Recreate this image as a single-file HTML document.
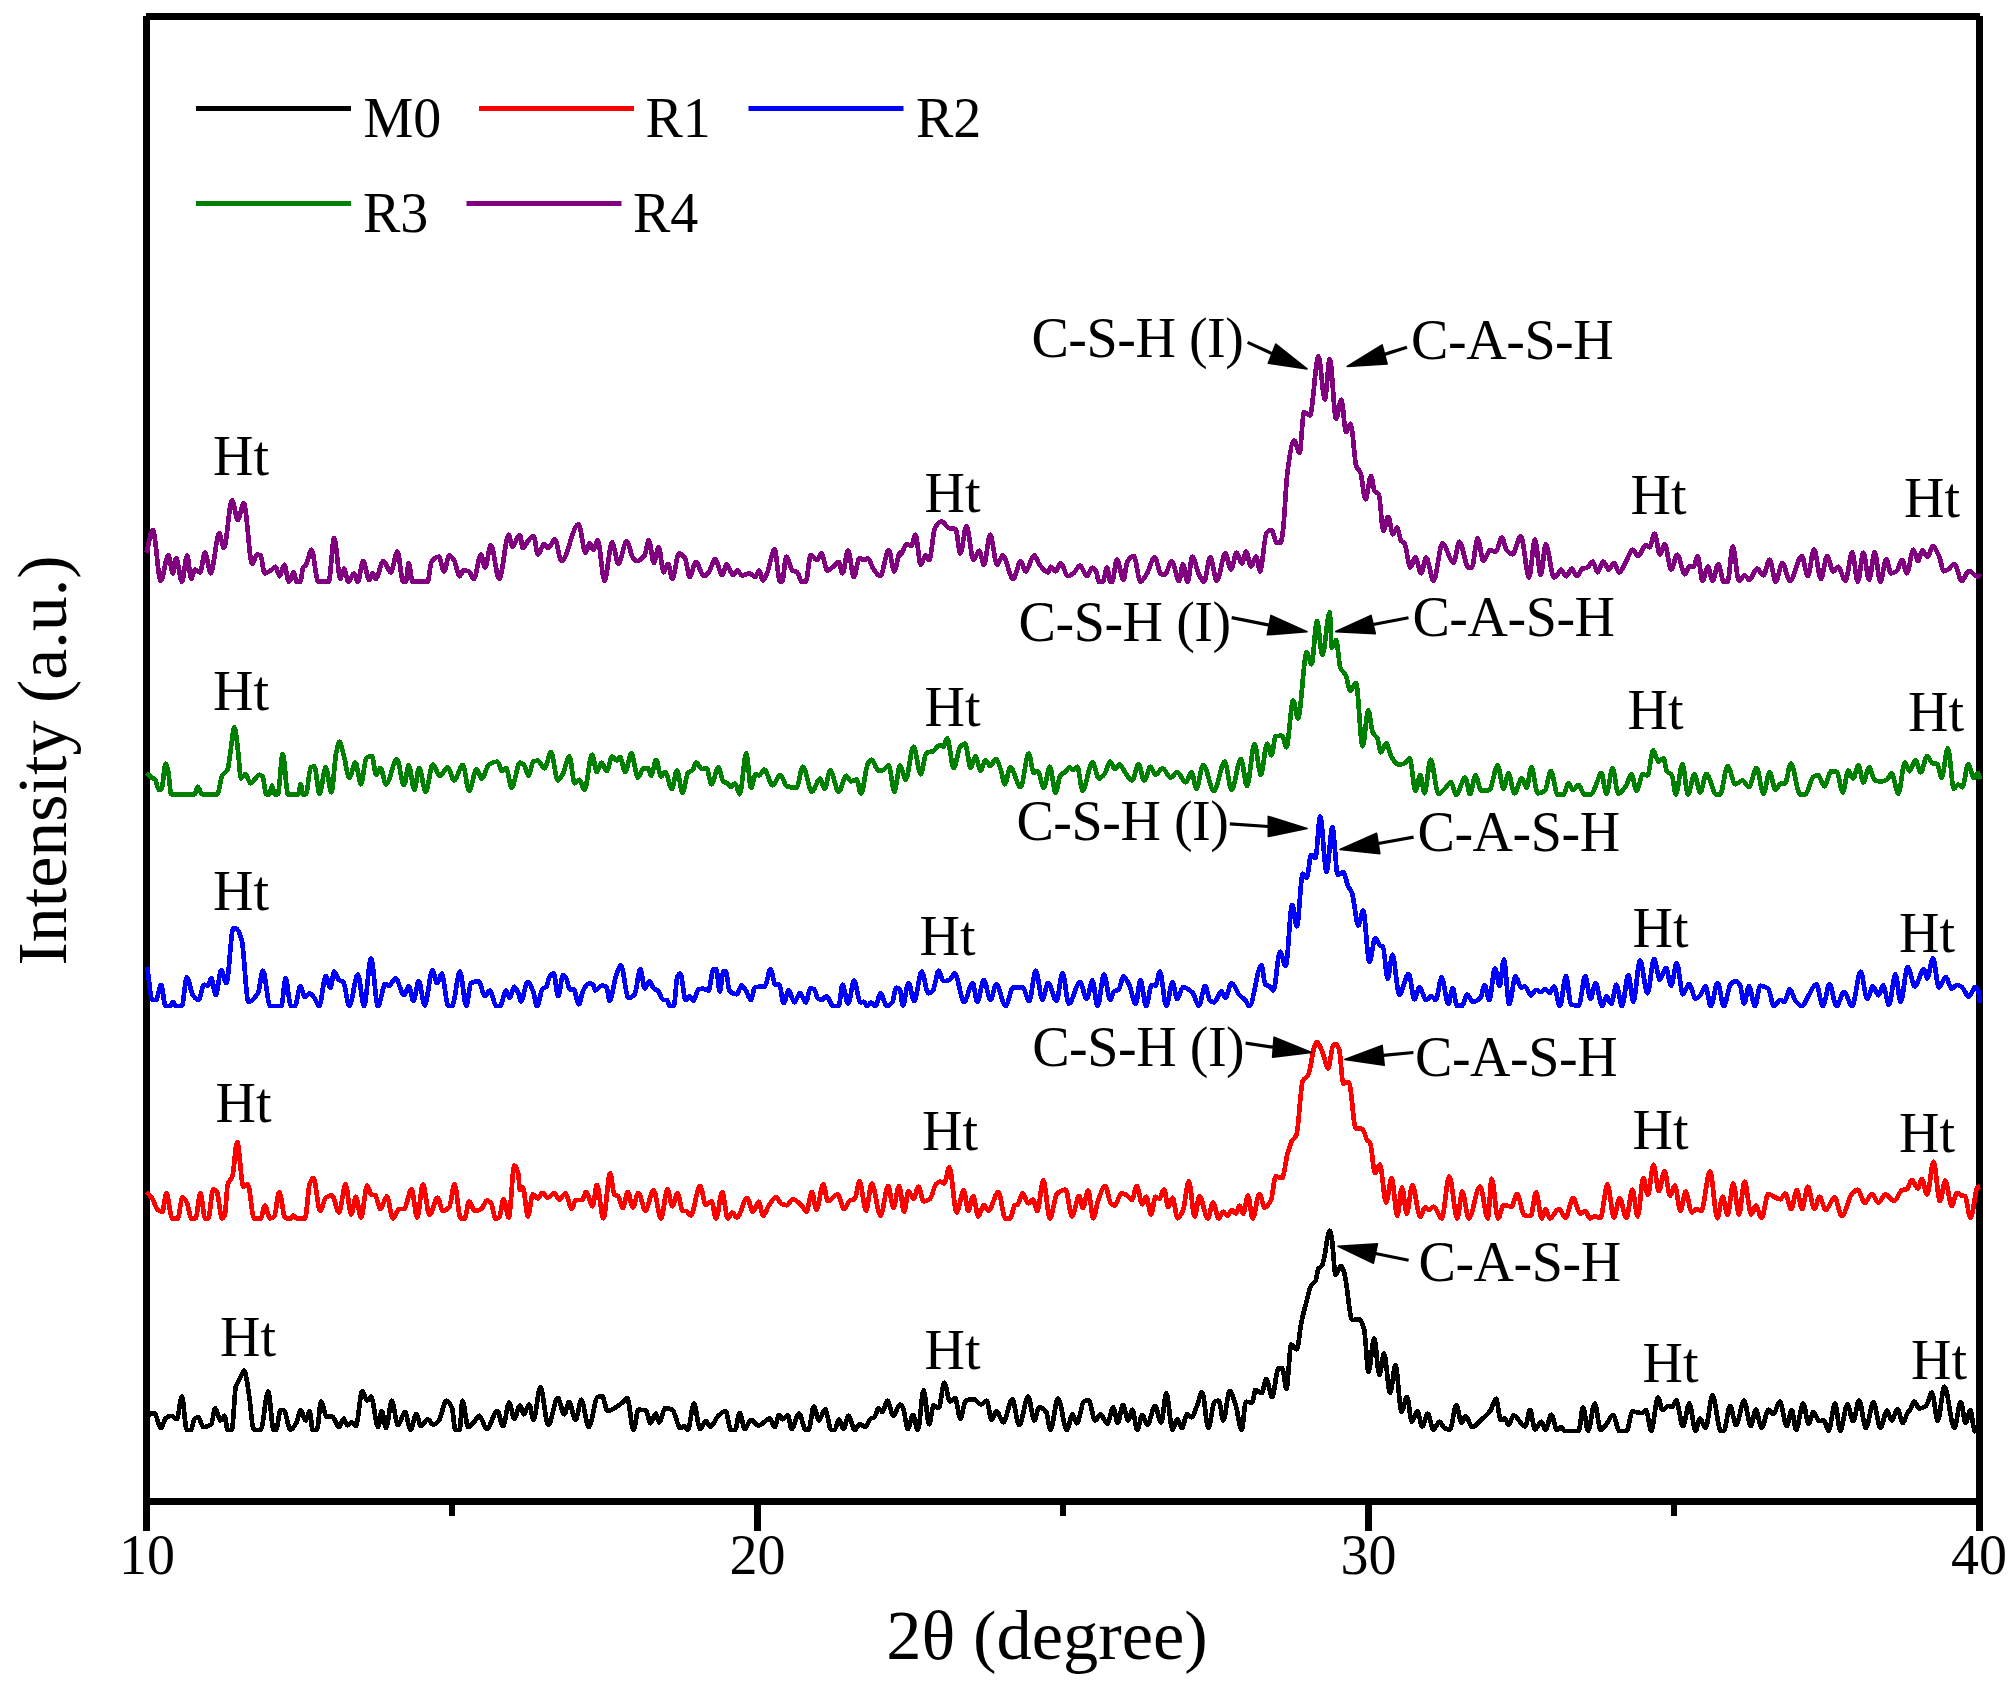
<!DOCTYPE html>
<html><head><meta charset="utf-8"><title>XRD</title>
<style>html,body{margin:0;padding:0;background:#fff}svg{display:block}text{font-family:"Liberation Serif","Times New Roman",serif;fill:#000}</style></head><body>
<svg width="2015" height="1686" viewBox="0 0 2015 1686">
<rect width="2015" height="1686" fill="#fff"/>
<g stroke="#000" stroke-width="7" fill="none" stroke-linecap="butt">
<line x1="146" y1="16.5" x2="1980" y2="16.5"/>
<line x1="146.5" y1="16" x2="146.5" y2="1531"/>
<line x1="1979.5" y1="16" x2="1979.5" y2="1531"/>
<line x1="143" y1="1501.5" x2="1983" y2="1501.5"/>
<line x1="757.5" y1="1501.5" x2="757.5" y2="1531"/>
<line x1="1368.5" y1="1501.5" x2="1368.5" y2="1531"/>
<line x1="452" y1="1501.5" x2="452" y2="1516" stroke-width="6"/>
<line x1="1063" y1="1501.5" x2="1063" y2="1516" stroke-width="6"/>
<line x1="1674" y1="1501.5" x2="1674" y2="1516" stroke-width="6"/>
</g>
<path fill="none" stroke="#000000" stroke-width="4.7" stroke-linejoin="round" stroke-linecap="butt" shape-rendering="crispEdges" d="M146.6,1415.8C149.1,1414.8 151.6,1413.0 154.1,1413.0C156.5,1413.0 158.8,1428.0 161.1,1428.0C162.6,1428.0 164.0,1419.8 165.5,1418.6C167.3,1417.0 169.2,1415.8 171.1,1415.8C173.0,1415.8 174.9,1419.2 176.8,1419.2C178.5,1419.2 180.2,1396.5 181.9,1396.5C183.5,1396.5 185.1,1429.9 186.8,1429.9C188.2,1429.9 189.5,1429.9 190.9,1429.9C192.2,1429.9 193.4,1419.4 194.7,1418.6C195.9,1417.8 197.2,1417.3 198.5,1417.3C200.0,1417.3 201.6,1427.1 203.2,1427.1C205.9,1427.1 208.6,1426.2 211.3,1424.3C212.5,1423.4 213.8,1408.2 215.1,1408.2C216.9,1408.2 218.8,1420.5 220.7,1420.5C222.0,1420.5 223.2,1415.8 224.5,1415.8C225.6,1415.8 226.6,1429.9 227.7,1429.9C229.1,1429.9 230.6,1429.9 232.0,1429.9C232.7,1429.9 233.3,1415.7 233.9,1408.2C234.5,1401.5 235.0,1389.7 235.6,1387.5C236.3,1384.8 237.0,1384.3 237.7,1382.8C239.1,1379.8 240.5,1376.8 241.8,1374.3C242.6,1372.9 243.3,1370.5 244.1,1370.5C245.0,1370.5 245.9,1375.8 246.7,1380.0C247.7,1384.6 248.8,1393.2 249.8,1400.7C250.9,1409.1 252.0,1426.2 253.2,1428.0C253.8,1429.1 254.4,1429.9 255.0,1429.9C256.9,1429.9 258.8,1429.9 260.7,1429.9C263.2,1429.9 265.7,1391.3 268.2,1391.3C270.0,1391.3 271.8,1429.9 273.5,1429.9C274.4,1429.9 275.3,1429.9 276.2,1429.9C277.6,1429.9 279.1,1410.1 280.5,1410.1C281.6,1410.1 282.6,1410.1 283.7,1410.1C286.0,1410.1 288.2,1429.9 290.5,1429.9C292.5,1429.9 294.5,1426.0 296.5,1422.4C297.9,1419.9 299.3,1410.1 300.7,1410.1C302.3,1410.1 303.9,1420.5 305.6,1420.5C307.0,1420.5 308.3,1411.1 309.7,1411.1C310.7,1411.1 311.6,1429.9 312.6,1429.9C314.0,1429.9 315.4,1429.9 316.9,1429.9C318.3,1429.9 319.7,1401.6 321.0,1401.6C322.9,1401.6 324.8,1416.7 326.7,1416.7C328.6,1416.7 330.5,1416.7 332.4,1416.7C334.6,1416.7 336.8,1427.1 339.0,1427.1C340.5,1427.1 342.1,1418.6 343.7,1418.6C344.9,1418.6 346.2,1425.2 347.4,1425.2C349.0,1425.2 350.6,1422.4 352.2,1422.4C353.4,1422.4 354.7,1426.2 355.9,1426.2C358.0,1426.2 360.1,1390.9 362.2,1390.9C363.9,1390.9 365.5,1400.7 367.2,1400.7C368.5,1400.7 369.8,1396.5 371.0,1396.5C373.3,1396.5 375.7,1427.1 378.0,1427.1C379.3,1427.1 380.5,1411.1 381.8,1411.1C383.2,1411.1 384.7,1428.0 386.1,1428.0C388.0,1428.0 389.9,1400.7 391.8,1400.7C393.8,1400.7 395.9,1425.2 398.0,1425.2C400.3,1425.2 402.6,1412.0 405.0,1412.0C406.8,1412.0 408.7,1429.9 410.6,1429.9C412.5,1429.9 414.4,1413.9 416.3,1413.9C417.8,1413.9 419.4,1426.2 421.0,1426.2C423.2,1426.2 425.4,1419.2 427.6,1419.2C429.5,1419.2 431.4,1424.8 433.3,1424.8C435.1,1424.8 437.0,1422.7 438.9,1420.5C441.4,1417.6 443.9,1400.7 446.5,1400.7C448.3,1400.7 450.2,1403.8 452.1,1408.2C453.2,1410.8 454.2,1429.9 455.3,1429.9C456.8,1429.9 458.2,1429.9 459.7,1429.9C460.6,1429.9 461.5,1400.7 462.5,1400.7C464.4,1400.7 466.3,1427.1 468.1,1427.1C470.0,1427.1 471.9,1424.2 473.8,1422.4C475.7,1420.5 477.6,1415.8 479.5,1415.8C481.8,1415.8 484.2,1429.0 486.6,1429.0C490.2,1429.0 493.8,1411.1 497.4,1411.1C499.3,1411.1 501.1,1426.2 503.0,1426.2C505.1,1426.2 507.2,1402.6 509.3,1402.6C510.9,1402.6 512.6,1418.6 514.3,1418.6C516.2,1418.6 518.1,1405.4 520.0,1405.4C521.3,1405.4 522.5,1414.3 523.8,1414.3C525.5,1414.3 527.3,1404.5 529.1,1404.5C530.6,1404.5 532.1,1419.6 533.6,1419.6C535.8,1419.6 538.1,1387.1 540.4,1387.1C543.0,1387.1 545.6,1425.2 548.3,1425.2C551.4,1425.2 554.6,1397.9 557.7,1397.9C559.9,1397.9 562.1,1414.3 564.3,1414.3C565.9,1414.3 567.5,1402.2 569.0,1402.2C571.2,1402.2 573.4,1419.9 575.6,1419.9C577.5,1419.9 579.4,1399.8 581.3,1399.8C583.8,1399.8 586.3,1427.1 588.8,1427.1C591.8,1427.1 594.7,1398.0 597.7,1396.9C599.1,1396.4 600.6,1396.0 602.0,1396.0C603.9,1396.0 605.8,1411.1 607.7,1411.1C609.9,1411.1 612.1,1409.4 614.3,1408.2C617.1,1406.7 620.0,1404.6 622.8,1402.2C624.2,1401.0 625.7,1397.9 627.1,1397.9C629.3,1397.9 631.4,1429.9 633.5,1429.9C635.2,1429.9 636.8,1409.7 638.4,1409.7C640.9,1409.7 643.5,1410.0 646.0,1410.5C647.5,1410.8 649.0,1423.3 650.5,1423.3C652.3,1423.3 654.0,1413.5 655.8,1413.5C656.9,1413.5 658.0,1422.4 659.2,1422.4C661.2,1422.4 663.2,1408.2 665.2,1408.2C667.6,1408.2 670.0,1408.8 672.4,1409.7C675.0,1410.8 677.7,1428.0 680.3,1428.0C681.6,1428.0 682.8,1426.2 684.1,1426.2C685.3,1426.2 686.6,1429.9 687.8,1429.9C689.9,1429.9 691.9,1403.5 693.9,1403.5C696.0,1403.5 698.0,1429.0 700.1,1429.0C702.0,1429.0 703.9,1421.1 705.8,1421.1C707.3,1421.1 708.9,1426.7 710.5,1426.7C713.0,1426.7 715.5,1418.4 718.0,1416.2C720.5,1413.9 723.0,1411.1 725.6,1411.1C727.3,1411.1 729.1,1429.9 730.8,1429.9C732.2,1429.9 733.6,1429.9 735.0,1429.9C736.6,1429.9 738.1,1413.0 739.7,1413.0C741.4,1413.0 743.1,1429.0 744.8,1429.0C746.9,1429.0 748.9,1419.9 751.0,1419.9C753.5,1419.9 756.0,1425.6 758.6,1425.6C762.3,1425.6 766.1,1418.6 769.9,1418.6C771.4,1418.6 773.0,1427.1 774.6,1427.1C776.2,1427.1 777.7,1414.8 779.3,1414.8C780.4,1414.8 781.4,1419.2 782.5,1419.2C784.3,1419.2 786.0,1415.4 787.8,1415.4C789.0,1415.4 790.3,1429.0 791.6,1429.0C794.1,1429.0 796.6,1413.5 799.1,1413.5C801.3,1413.5 803.5,1429.9 805.7,1429.9C806.7,1429.9 807.6,1429.9 808.5,1429.9C810.3,1429.9 812.1,1406.4 813.8,1406.4C815.5,1406.4 817.2,1420.5 818.9,1420.5C821.0,1420.5 823.1,1409.2 825.1,1409.2C827.1,1409.2 829.2,1429.9 831.2,1429.9C832.3,1429.9 833.4,1429.9 834.6,1429.9C836.1,1429.9 837.6,1419.6 839.1,1419.6C840.5,1419.6 842.0,1429.0 843.4,1429.0C845.1,1429.0 846.8,1415.8 848.5,1415.8C850.6,1415.8 852.7,1429.9 854.7,1429.9C856.3,1429.9 857.9,1424.3 859.5,1424.3C861.5,1424.3 863.5,1426.7 865.5,1426.7C867.2,1426.7 869.0,1419.6 870.8,1418.6C872.0,1417.9 873.3,1418.1 874.5,1417.3C875.8,1416.5 877.1,1407.9 878.3,1407.9C879.7,1407.9 881.1,1412.0 882.5,1412.0C884.1,1412.0 885.7,1400.7 887.4,1400.7C889.4,1400.7 891.4,1415.8 893.4,1415.8C895.6,1415.8 897.8,1404.5 900.0,1404.5C900.9,1404.5 901.9,1405.9 902.8,1407.3C904.5,1409.9 906.2,1429.0 907.9,1429.0C909.6,1429.0 911.2,1414.8 912.8,1414.8C914.5,1414.8 916.2,1429.9 917.9,1429.9C919.8,1429.9 921.7,1390.3 923.6,1390.3C925.5,1390.3 927.3,1424.3 929.2,1424.3C930.7,1424.3 932.1,1405.4 933.6,1405.4C935.3,1405.4 937.0,1408.2 938.7,1408.2C940.5,1408.2 942.4,1382.8 944.3,1382.8C946.2,1382.8 948.1,1401.6 950.0,1401.6C951.7,1401.6 953.4,1397.9 955.1,1397.9C956.8,1397.9 958.6,1418.6 960.3,1418.6C962.1,1418.6 963.9,1401.4 965.6,1400.7C968.3,1399.7 970.9,1399.2 973.5,1399.2C976.1,1399.2 978.6,1404.5 981.1,1404.5C983.0,1404.5 984.9,1400.7 986.7,1400.7C988.3,1400.7 989.9,1419.6 991.5,1419.6C993.2,1419.6 994.9,1411.1 996.6,1411.1C998.8,1411.1 1001.1,1422.4 1003.3,1422.4C1006.3,1422.4 1009.3,1399.2 1012.2,1399.2C1014.5,1399.2 1016.9,1425.2 1019.2,1425.2C1022.2,1425.2 1025.2,1396.5 1028.2,1396.5C1030.2,1396.5 1032.3,1420.5 1034.3,1420.5C1035.9,1420.5 1037.5,1407.3 1039.2,1407.3C1041.5,1407.3 1043.8,1409.1 1046.2,1412.0C1047.6,1413.8 1049.0,1429.9 1050.5,1429.9C1053.0,1429.9 1055.5,1398.4 1058.0,1398.4C1061.0,1398.4 1063.9,1429.9 1066.9,1429.9C1068.8,1429.9 1070.7,1414.3 1072.6,1414.3C1074.0,1414.3 1075.4,1423.3 1076.9,1423.3C1079.2,1423.3 1081.5,1402.8 1083.9,1401.6C1085.4,1400.9 1087.0,1400.3 1088.6,1400.3C1090.8,1400.3 1093.0,1420.5 1095.2,1420.5C1096.9,1420.5 1098.6,1414.3 1100.3,1414.3C1102.7,1414.3 1105.1,1423.7 1107.4,1423.7C1109.3,1423.7 1111.2,1407.3 1113.1,1407.3C1114.7,1407.3 1116.2,1422.9 1117.8,1422.9C1119.5,1422.9 1121.2,1404.8 1122.9,1404.8C1124.7,1404.8 1126.4,1420.5 1128.2,1420.5C1129.6,1420.5 1131.0,1409.7 1132.3,1409.7C1134.0,1409.7 1135.6,1429.9 1137.2,1429.9C1138.9,1429.9 1140.6,1414.8 1142.3,1414.8C1144.0,1414.8 1145.7,1424.8 1147.4,1424.8C1149.9,1424.8 1152.5,1406.0 1155.0,1406.0C1157.0,1406.0 1159.1,1422.4 1161.2,1422.4C1162.9,1422.4 1164.6,1393.2 1166.3,1393.2C1168.4,1393.2 1170.4,1429.9 1172.5,1429.9C1174.1,1429.9 1175.6,1419.2 1177.2,1419.2C1178.8,1419.2 1180.4,1428.0 1181.9,1428.0C1183.6,1428.0 1185.3,1414.3 1187.0,1414.3C1188.5,1414.3 1189.9,1417.3 1191.4,1417.3C1193.3,1417.3 1195.1,1410.3 1197.0,1406.0C1198.7,1402.1 1200.4,1392.2 1202.1,1392.2C1204.2,1392.2 1206.3,1428.0 1208.3,1428.0C1210.4,1428.0 1212.5,1402.5 1214.6,1401.6C1215.9,1401.1 1217.3,1400.7 1218.7,1400.7C1220.3,1400.7 1221.9,1420.5 1223.4,1420.5C1225.5,1420.5 1227.6,1390.9 1229.6,1390.9C1231.7,1390.9 1233.7,1399.3 1235.7,1405.4C1237.7,1411.5 1239.7,1429.9 1241.7,1429.9C1243.1,1429.9 1244.5,1401.8 1245.9,1401.8C1248.0,1401.8 1250.1,1402.6 1252.2,1402.6C1253.3,1402.6 1254.4,1389.9 1255.4,1389.9C1257.5,1389.9 1259.6,1393.1 1261.8,1393.1C1263.2,1393.1 1264.7,1378.8 1266.2,1378.8C1268.2,1378.8 1270.1,1397.1 1272.1,1397.1C1274.2,1397.1 1276.3,1368.5 1278.4,1368.5C1279.8,1368.5 1281.1,1368.5 1282.4,1368.5C1283.7,1368.5 1285.1,1389.1 1286.4,1389.1C1288.0,1389.1 1289.6,1344.7 1291.1,1344.7C1293.0,1344.7 1294.8,1349.4 1296.7,1349.4C1298.3,1349.4 1299.9,1329.2 1301.5,1321.6C1303.1,1314.1 1304.6,1308.5 1306.2,1302.6C1307.8,1296.7 1309.4,1288.7 1311.0,1285.9C1312.6,1283.1 1314.2,1283.5 1315.8,1280.3C1316.6,1278.8 1317.3,1270.6 1318.1,1269.2C1319.5,1266.9 1320.8,1267.5 1322.1,1265.3C1323.2,1263.5 1324.2,1257.2 1325.3,1251.8C1326.0,1248.2 1326.7,1241.9 1327.3,1238.7C1328.1,1235.3 1328.8,1230.8 1329.6,1230.8C1330.3,1230.8 1331.1,1235.0 1331.8,1238.7C1333.1,1245.1 1334.3,1274.8 1335.6,1274.8C1337.5,1274.8 1339.3,1266.1 1341.2,1266.1C1342.2,1266.1 1343.3,1270.0 1344.3,1273.2C1347.0,1281.3 1349.6,1320.0 1352.3,1320.0C1354.7,1320.0 1357.0,1319.3 1359.4,1319.3C1361.0,1319.3 1362.6,1323.9 1364.2,1329.6C1365.6,1334.7 1367.1,1371.7 1368.5,1371.7C1370.4,1371.7 1372.3,1338.3 1374.2,1338.3C1375.9,1338.3 1377.6,1374.8 1379.3,1374.8C1380.9,1374.8 1382.5,1353.4 1384.0,1353.4C1386.1,1353.4 1388.1,1393.1 1390.1,1393.1C1391.9,1393.1 1393.7,1365.3 1395.5,1365.3C1397.5,1365.3 1399.5,1411.4 1401.5,1411.4C1403.4,1411.4 1405.2,1397.1 1407.1,1397.1C1408.7,1397.1 1410.2,1421.7 1411.8,1421.7C1413.7,1421.7 1415.5,1411.4 1417.4,1411.4C1419.0,1411.4 1420.6,1426.5 1422.2,1426.5C1424.0,1426.5 1425.9,1413.7 1427.7,1413.7C1429.6,1413.7 1431.4,1429.6 1433.3,1429.6C1435.4,1429.6 1437.5,1421.7 1439.6,1421.7C1441.2,1421.7 1442.8,1427.3 1444.4,1428.0C1446.2,1428.9 1448.1,1429.6 1450.0,1429.6C1452.1,1429.6 1454.2,1405.0 1456.3,1405.0C1458.0,1405.0 1459.8,1422.5 1461.5,1422.5C1463.0,1422.5 1464.4,1416.1 1465.8,1416.1C1467.9,1416.1 1470.1,1427.2 1472.2,1427.2C1475.1,1427.2 1478.0,1422.7 1480.9,1420.1C1484.1,1417.2 1487.3,1415.0 1490.4,1410.6C1492.3,1408.0 1494.2,1398.7 1496.0,1398.7C1497.6,1398.7 1499.2,1420.1 1500.8,1420.1C1502.1,1420.1 1503.4,1418.5 1504.7,1418.5C1506.1,1418.5 1507.4,1424.9 1508.7,1424.9C1510.3,1424.9 1511.9,1415.3 1513.5,1415.3C1517.3,1415.3 1521.2,1426.5 1525.1,1426.5C1526.8,1426.5 1528.5,1409.8 1530.1,1409.8C1531.7,1409.8 1533.3,1429.6 1534.9,1429.6C1537.0,1429.6 1539.1,1421.7 1541.3,1421.7C1542.6,1421.7 1543.9,1428.4 1545.2,1429.6C1545.4,1429.8 1545.5,1429.9 1545.7,1429.9C1547.5,1429.9 1549.4,1414.8 1551.3,1414.8C1553.2,1414.8 1555.1,1429.9 1557.0,1429.9C1558.5,1429.9 1560.1,1427.1 1561.7,1427.1C1562.6,1427.1 1563.6,1430.9 1564.5,1430.9C1569.2,1430.9 1573.9,1430.9 1578.7,1430.9C1580.1,1430.9 1581.6,1407.3 1583.0,1407.3C1584.7,1407.3 1586.4,1430.9 1588.1,1430.9C1590.3,1430.9 1592.5,1403.5 1594.7,1403.5C1596.7,1403.5 1598.7,1429.9 1600.7,1429.9C1602.6,1429.9 1604.5,1426.5 1606.4,1424.3C1608.6,1421.6 1610.9,1414.8 1613.2,1414.8C1615.2,1414.8 1617.2,1430.9 1619.2,1430.9C1621.7,1430.9 1624.2,1430.9 1626.7,1430.9C1628.6,1430.9 1630.5,1411.6 1632.4,1411.6C1635.6,1411.6 1638.7,1413.0 1641.8,1413.0C1643.2,1413.0 1644.6,1410.1 1646.0,1410.1C1647.7,1410.1 1649.5,1430.9 1651.3,1430.9C1653.5,1430.9 1655.7,1397.3 1657.9,1397.3C1659.4,1397.3 1661.0,1410.1 1662.6,1410.1C1664.6,1410.1 1666.6,1406.0 1668.6,1406.0C1669.9,1406.0 1671.1,1406.7 1672.4,1406.7C1673.6,1406.7 1674.9,1400.3 1676.2,1400.3C1678.4,1400.3 1680.7,1426.2 1682.9,1426.2C1685.1,1426.2 1687.2,1403.5 1689.4,1403.5C1691.4,1403.5 1693.5,1430.9 1695.6,1430.9C1697.0,1430.9 1698.5,1418.6 1699.9,1418.6C1701.8,1418.6 1703.7,1428.0 1705.6,1428.0C1707.9,1428.0 1710.2,1395.4 1712.6,1395.4C1715.3,1395.4 1718.0,1430.9 1720.7,1430.9C1721.7,1430.9 1722.8,1430.9 1723.9,1430.9C1725.9,1430.9 1728.0,1406.0 1730.1,1406.0C1732.1,1406.0 1734.1,1425.2 1736.1,1425.2C1738.8,1425.2 1741.4,1400.7 1744.0,1400.7C1746.3,1400.7 1748.6,1426.2 1750.8,1426.2C1752.5,1426.2 1754.2,1409.7 1755.9,1409.7C1757.8,1409.7 1759.7,1428.0 1761.6,1428.0C1763.9,1428.0 1766.2,1409.7 1768.6,1409.7C1770.2,1409.7 1771.8,1413.9 1773.5,1413.9C1775.6,1413.9 1777.7,1401.6 1779.9,1401.6C1782.1,1401.6 1784.4,1426.2 1786.7,1426.2C1788.4,1426.2 1790.1,1410.1 1791.8,1410.1C1793.2,1410.1 1794.7,1429.9 1796.1,1429.9C1798.4,1429.9 1800.8,1403.5 1803.1,1403.5C1805.0,1403.5 1806.8,1423.7 1808.7,1423.7C1810.3,1423.7 1811.9,1412.0 1813.4,1412.0C1815.3,1412.0 1817.2,1421.1 1819.1,1421.1C1820.7,1421.1 1822.2,1420.5 1823.8,1420.5C1825.4,1420.5 1827.0,1430.9 1828.5,1430.9C1830.7,1430.9 1832.9,1403.5 1835.1,1403.5C1836.8,1403.5 1838.5,1430.9 1840.2,1430.9C1842.6,1430.9 1845.0,1404.5 1847.4,1404.5C1849.3,1404.5 1851.2,1421.1 1853.1,1421.1C1855.1,1421.1 1857.1,1400.3 1859.1,1400.3C1861.3,1400.3 1863.6,1428.0 1865.9,1428.0C1868.4,1428.0 1870.9,1402.2 1873.4,1402.2C1875.7,1402.2 1878.1,1428.0 1880.4,1428.0C1882.6,1428.0 1884.8,1410.5 1887.0,1410.5C1888.6,1410.5 1890.1,1420.5 1891.7,1420.5C1893.6,1420.5 1895.5,1409.2 1897.4,1409.2C1899.3,1409.2 1901.1,1422.9 1903.0,1422.9C1904.9,1422.9 1906.8,1411.1 1908.7,1411.1C1908.8,1411.1 1908.9,1411.1 1909.0,1411.1C1910.8,1411.1 1912.5,1401.6 1914.3,1401.6C1915.9,1401.6 1917.5,1408.5 1919.1,1408.5C1921.4,1408.5 1923.7,1407.4 1926.1,1405.9C1928.0,1404.5 1930.0,1392.5 1931.9,1392.5C1933.9,1392.5 1935.8,1420.8 1937.8,1420.8C1940.0,1420.8 1942.2,1386.6 1944.4,1386.6C1947.7,1386.6 1951.0,1427.7 1954.3,1427.7C1956.5,1427.7 1958.6,1402.1 1960.8,1402.1C1962.4,1402.1 1964.0,1422.9 1965.6,1422.9C1967.2,1422.9 1968.8,1410.1 1970.4,1410.1C1971.8,1410.1 1973.2,1429.5 1974.6,1431.0C1975.2,1431.5 1975.7,1431.7 1976.2,1432.0"/>
<path fill="none" stroke="#ff0000" stroke-width="4.7" stroke-linejoin="round" stroke-linecap="butt" shape-rendering="crispEdges" d="M146.6,1192.0C148.5,1194.2 150.4,1195.8 152.3,1198.6C154.1,1201.4 156.0,1208.6 157.9,1209.9C159.4,1210.9 160.8,1211.8 162.3,1211.8C163.6,1211.8 165.0,1193.0 166.4,1193.0C168.3,1193.0 170.2,1218.4 172.1,1218.4C173.9,1218.4 175.8,1218.4 177.7,1218.4C179.3,1218.4 180.9,1197.3 182.4,1197.3C184.0,1197.3 185.6,1200.3 187.1,1203.3C188.5,1206.0 189.9,1218.4 191.3,1218.4C192.7,1218.4 194.2,1218.4 195.6,1218.4C197.2,1218.4 198.8,1193.0 200.3,1193.0C201.9,1193.0 203.5,1218.4 205.1,1218.4C206.1,1218.4 207.2,1218.4 208.3,1218.4C209.9,1218.4 211.5,1189.2 213.2,1189.2C214.4,1189.2 215.7,1190.4 216.9,1192.0C218.6,1194.2 220.3,1218.4 222.0,1218.4C223.0,1218.4 223.9,1216.9 224.9,1214.6C225.8,1212.4 226.7,1187.6 227.7,1184.5C229.3,1179.3 230.8,1180.5 232.4,1176.0C234.0,1171.5 235.6,1142.0 237.1,1142.0C239.2,1142.0 241.3,1186.7 243.3,1186.7C244.9,1186.7 246.4,1184.5 247.9,1184.5C249.9,1184.5 252.0,1218.4 254.1,1218.4C256.3,1218.4 258.5,1218.4 260.7,1218.4C262.1,1218.4 263.5,1205.6 264.8,1205.6C266.6,1205.6 268.4,1218.4 270.1,1218.4C271.5,1218.4 272.9,1217.7 274.3,1216.5C275.9,1215.2 277.5,1192.0 279.2,1192.0C281.2,1192.0 283.2,1217.8 285.2,1218.0C287.1,1218.3 289.0,1218.4 290.9,1218.4C291.6,1218.4 292.4,1215.6 293.1,1215.6C294.3,1215.6 295.4,1218.4 296.5,1218.4C299.4,1218.4 302.2,1218.4 305.0,1218.4C306.6,1218.4 308.2,1187.3 309.7,1183.5C311.0,1180.5 312.2,1177.9 313.5,1177.9C315.7,1177.9 317.9,1210.9 320.1,1210.9C322.0,1210.9 323.9,1198.9 325.8,1197.7C327.8,1196.3 329.9,1195.4 332.0,1195.4C334.3,1195.4 336.6,1212.4 339.0,1212.4C341.2,1212.4 343.4,1184.5 345.6,1184.5C347.4,1184.5 349.3,1214.6 351.2,1214.6C352.8,1214.6 354.4,1196.7 355.9,1196.7C357.6,1196.7 359.3,1217.5 361.0,1217.5C363.1,1217.5 365.2,1185.4 367.2,1185.4C368.5,1185.4 369.8,1193.7 371.0,1194.3C372.5,1195.0 373.9,1194.7 375.4,1195.4C377.1,1196.2 378.7,1209.0 380.4,1209.0C382.6,1209.0 384.8,1196.2 387.0,1196.2C388.9,1196.2 390.8,1218.4 392.7,1218.4C394.9,1218.4 397.1,1209.0 399.3,1209.0C400.9,1209.0 402.4,1209.0 404.0,1209.0C406.5,1209.0 409.0,1189.2 411.6,1189.2C413.4,1189.2 415.3,1217.5 417.2,1217.5C419.1,1217.5 421.0,1184.5 422.9,1184.5C425.1,1184.5 427.3,1215.0 429.5,1215.0C432.2,1215.0 434.9,1197.7 437.6,1197.7C439.3,1197.7 441.0,1210.9 442.7,1210.9C444.9,1210.9 447.1,1209.4 449.3,1207.1C451.0,1205.3 452.8,1184.5 454.6,1184.5C456.6,1184.5 458.6,1218.4 460.6,1218.4C462.0,1218.4 463.4,1218.4 464.7,1218.4C466.2,1218.4 467.6,1201.4 469.1,1201.4C471.0,1201.4 472.9,1210.9 474.7,1210.9C476.9,1210.9 479.1,1210.1 481.3,1209.0C483.2,1208.1 485.1,1200.5 487.0,1200.5C488.4,1200.5 489.8,1201.8 491.1,1203.3C492.6,1205.0 494.0,1218.4 495.5,1218.4C496.7,1218.4 498.0,1218.1 499.3,1217.5C500.7,1216.8 502.1,1199.2 503.6,1199.2C505.3,1199.2 507.0,1217.5 508.7,1217.5C510.6,1217.5 512.5,1165.6 514.3,1165.6C515.6,1165.6 516.9,1168.7 518.1,1173.2C518.7,1175.4 519.4,1190.1 520.0,1190.1C520.9,1190.1 521.9,1187.3 522.8,1187.3C524.5,1187.3 526.2,1216.5 527.9,1216.5C529.6,1216.5 531.2,1194.3 532.8,1194.3C534.5,1194.3 536.2,1198.6 537.9,1198.6C539.4,1198.6 540.8,1193.0 542.3,1193.0C544.1,1193.0 546.0,1197.7 547.9,1197.7C550.0,1197.7 552.2,1193.0 554.3,1193.0C556.0,1193.0 557.6,1199.6 559.2,1199.6C561.2,1199.6 563.2,1193.5 565.3,1193.5C567.5,1193.5 569.7,1209.0 571.9,1209.0C573.1,1209.0 574.4,1199.9 575.6,1199.9C577.8,1199.9 580.0,1199.9 582.2,1199.9C583.5,1199.9 584.7,1192.0 586.0,1192.0C588.2,1192.0 590.4,1206.2 592.6,1206.2C594.1,1206.2 595.5,1184.8 596.9,1184.8C599.1,1184.8 601.2,1218.4 603.4,1218.4C605.6,1218.4 607.9,1173.2 610.1,1173.2C611.5,1173.2 612.9,1193.9 614.3,1194.8C615.6,1195.7 616.8,1195.4 618.1,1196.2C619.6,1197.1 621.2,1208.0 622.8,1208.0C624.5,1208.0 626.2,1192.0 627.9,1192.0C629.5,1192.0 631.1,1207.5 632.8,1207.5C634.7,1207.5 636.5,1193.0 638.4,1193.0C640.8,1193.0 643.1,1210.5 645.4,1210.5C648.1,1210.5 650.8,1190.1 653.5,1190.1C656.0,1190.1 658.5,1218.4 661.1,1218.4C663.2,1218.4 665.3,1189.2 667.5,1189.2C669.1,1189.2 670.7,1206.2 672.4,1206.2C674.1,1206.2 675.8,1193.0 677.5,1193.0C679.2,1193.0 680.9,1210.9 682.6,1210.9C683.7,1210.9 684.8,1210.9 686.0,1210.9C687.5,1210.9 689.1,1215.6 690.7,1215.6C693.8,1215.6 697.0,1186.0 700.1,1186.0C702.0,1186.0 703.9,1204.8 705.8,1204.8C707.6,1204.8 709.5,1201.4 711.4,1201.4C713.0,1201.4 714.6,1218.4 716.1,1218.4C718.1,1218.4 720.2,1192.0 722.2,1192.0C724.0,1192.0 725.9,1218.4 727.8,1218.4C729.3,1218.4 730.7,1212.4 732.2,1212.4C733.7,1212.4 735.3,1217.5 736.9,1217.5C740.3,1217.5 743.8,1198.0 747.2,1198.0C749.1,1198.0 751.0,1211.8 752.9,1211.8C754.8,1211.8 756.7,1201.8 758.6,1201.8C760.1,1201.8 761.7,1215.6 763.3,1215.6C765.2,1215.6 767.0,1207.8 768.9,1205.2C771.3,1201.9 773.7,1197.3 776.1,1197.3C777.8,1197.3 779.5,1202.9 781.2,1203.7C783.1,1204.5 785.0,1205.2 786.8,1205.2C788.7,1205.2 790.6,1199.2 792.5,1199.2C795.6,1199.2 798.8,1202.6 801.9,1205.6C803.4,1207.0 804.8,1211.8 806.3,1211.8C808.2,1211.8 810.0,1192.0 811.9,1192.0C813.4,1192.0 814.9,1209.9 816.5,1209.9C818.7,1209.9 821.0,1184.1 823.2,1184.1C824.8,1184.1 826.3,1201.1 827.8,1201.1C831.1,1201.1 834.4,1194.3 837.8,1194.3C839.8,1194.3 841.9,1209.0 844.0,1209.0C846.0,1209.0 848.0,1201.4 850.0,1200.5C851.6,1199.8 853.2,1200.0 854.7,1199.2C856.3,1198.4 857.9,1181.1 859.5,1181.1C861.7,1181.1 863.9,1210.9 866.1,1210.9C867.9,1210.9 869.8,1183.5 871.7,1183.5C874.7,1183.5 877.6,1215.6 880.6,1215.6C883.1,1215.6 885.6,1186.0 888.1,1186.0C889.9,1186.0 891.6,1207.5 893.4,1207.5C895.3,1207.5 897.2,1186.0 899.1,1186.0C900.8,1186.0 902.5,1211.8 904.1,1211.8C905.6,1211.8 907.0,1191.1 908.5,1191.1C910.2,1191.1 911.9,1198.6 913.6,1198.6C915.2,1198.6 916.8,1186.7 918.5,1186.7C920.2,1186.7 921.9,1201.4 923.6,1201.4C925.8,1201.4 928.0,1200.3 930.2,1198.6C932.1,1197.2 933.9,1186.4 935.8,1184.5C937.2,1183.0 938.6,1181.6 940.0,1181.6C941.4,1181.6 942.9,1183.5 944.3,1183.5C946.0,1183.5 947.7,1167.1 949.4,1167.1C951.8,1167.1 954.2,1212.4 956.6,1212.4C959.0,1212.4 961.4,1190.5 963.7,1190.5C965.3,1190.5 966.8,1210.9 968.3,1210.9C969.9,1210.9 971.5,1196.2 973.2,1196.2C974.9,1196.2 976.6,1216.5 978.3,1216.5C980.1,1216.5 982.0,1204.8 983.9,1204.8C985.4,1204.8 986.8,1210.9 988.3,1210.9C991.7,1210.9 995.0,1192.0 998.4,1192.0C1000.7,1192.0 1003.0,1218.4 1005.2,1218.4C1006.9,1218.4 1008.6,1218.4 1010.3,1218.4C1011.8,1218.4 1013.2,1206.0 1014.7,1205.2C1015.7,1204.7 1016.8,1204.8 1017.9,1204.3C1019.4,1203.5 1021.0,1193.0 1022.6,1193.0C1024.5,1193.0 1026.4,1203.3 1028.2,1203.3C1029.8,1203.3 1031.4,1199.6 1033.0,1199.6C1034.4,1199.6 1035.8,1210.9 1037.3,1210.9C1039.3,1210.9 1041.3,1180.3 1043.3,1180.3C1045.5,1180.3 1047.7,1218.4 1049.9,1218.4C1052.3,1218.4 1054.6,1195.9 1056.9,1193.9C1059.8,1191.4 1062.7,1189.7 1065.6,1189.7C1067.7,1189.7 1069.9,1216.5 1072.0,1216.5C1074.4,1216.5 1076.8,1195.8 1079.2,1195.8C1080.4,1195.8 1081.7,1208.0 1082.9,1208.0C1084.7,1208.0 1086.4,1190.5 1088.2,1190.5C1089.9,1190.5 1091.6,1218.4 1093.3,1218.4C1094.9,1218.4 1096.4,1205.4 1098.0,1201.1C1100.4,1194.5 1102.8,1186.0 1105.2,1186.0C1107.1,1186.0 1109.0,1201.6 1110.8,1203.3C1112.2,1204.6 1113.6,1205.6 1115.0,1205.6C1117.0,1205.6 1119.0,1193.5 1121.0,1193.5C1122.8,1193.5 1124.5,1194.2 1126.3,1194.8C1128.2,1195.6 1130.1,1199.9 1132.0,1199.9C1133.5,1199.9 1135.1,1186.0 1136.7,1186.0C1138.6,1186.0 1140.4,1204.3 1142.3,1204.3C1143.6,1204.3 1144.8,1196.7 1146.1,1196.7C1147.8,1196.7 1149.5,1214.6 1151.2,1214.6C1152.6,1214.6 1154.1,1196.7 1155.5,1196.7C1156.8,1196.7 1158.0,1198.6 1159.3,1198.6C1160.9,1198.6 1162.4,1189.2 1164.0,1189.2C1165.4,1189.2 1166.8,1207.1 1168.2,1207.1C1169.6,1207.1 1171.1,1197.7 1172.5,1197.7C1174.2,1197.7 1175.9,1218.4 1177.6,1218.4C1179.4,1218.4 1181.1,1214.7 1182.9,1210.9C1184.9,1206.5 1186.9,1181.1 1188.9,1181.1C1190.8,1181.1 1192.7,1216.5 1194.6,1216.5C1196.2,1216.5 1197.8,1196.2 1199.5,1196.2C1202.2,1196.2 1205.0,1218.4 1207.8,1218.4C1209.5,1218.4 1211.3,1202.4 1213.1,1202.4C1214.9,1202.4 1216.8,1218.4 1218.7,1218.4C1220.3,1218.4 1221.9,1211.8 1223.4,1211.8C1224.7,1211.8 1225.9,1215.6 1227.2,1215.6C1228.8,1215.6 1230.3,1209.9 1231.9,1209.9C1233.3,1209.9 1234.7,1213.7 1236.1,1213.7C1237.2,1213.7 1238.3,1205.6 1239.5,1205.6C1240.7,1205.6 1242.0,1213.7 1243.2,1213.7C1244.8,1213.7 1246.4,1195.4 1247.9,1195.4C1249.5,1195.4 1251.1,1218.4 1252.7,1218.4C1254.9,1218.4 1257.1,1193.9 1259.4,1193.9C1261.1,1193.9 1262.9,1207.4 1264.6,1207.4C1266.7,1207.4 1268.9,1204.3 1271.0,1200.2C1272.6,1197.2 1274.1,1176.4 1275.7,1176.4C1277.8,1176.4 1280.0,1178.0 1282.1,1178.0C1283.9,1178.0 1285.8,1160.0 1287.6,1153.4C1289.0,1148.7 1290.3,1144.0 1291.6,1141.5C1293.2,1138.5 1294.8,1138.7 1296.4,1135.1C1298.5,1130.4 1300.6,1085.3 1302.7,1081.1C1304.6,1077.5 1306.4,1078.1 1308.3,1074.8C1310.4,1071.0 1312.5,1051.0 1314.6,1046.2C1315.4,1044.4 1316.2,1042.2 1317.0,1042.2C1318.9,1042.2 1320.7,1048.4 1322.6,1052.6C1324.4,1056.7 1326.3,1068.4 1328.1,1068.4C1329.7,1068.4 1331.3,1048.2 1332.9,1046.2C1334.0,1044.9 1335.0,1043.8 1336.1,1043.8C1337.1,1043.8 1338.2,1046.8 1339.3,1050.2C1340.6,1054.4 1341.9,1083.5 1343.2,1083.5C1345.1,1083.5 1346.9,1081.9 1348.8,1081.9C1351.2,1081.9 1353.5,1128.8 1355.9,1128.8C1358.0,1128.8 1360.2,1128.8 1362.3,1128.8C1363.9,1128.8 1365.5,1137.7 1367.0,1139.9C1368.1,1141.3 1369.2,1141.3 1370.2,1143.1C1371.8,1145.7 1373.4,1173.3 1375.0,1173.3C1376.6,1173.3 1378.2,1164.5 1379.8,1164.5C1381.9,1164.5 1384.0,1202.6 1386.1,1202.6C1388.0,1202.6 1389.8,1178.0 1391.7,1178.0C1393.5,1178.0 1395.4,1216.1 1397.2,1216.1C1398.8,1216.1 1400.4,1187.5 1402.0,1187.5C1403.6,1187.5 1405.2,1213.7 1406.7,1213.7C1408.6,1213.7 1410.5,1185.2 1412.3,1185.2C1415.0,1185.2 1417.6,1216.9 1420.2,1216.9C1421.8,1216.9 1423.4,1207.4 1425.0,1207.4C1426.3,1207.4 1427.7,1209.8 1429.0,1209.8C1430.6,1209.8 1432.2,1206.6 1433.7,1206.6C1436.4,1206.6 1439.0,1218.5 1441.7,1218.5C1444.2,1218.5 1446.8,1176.4 1449.3,1176.4C1452.0,1176.4 1454.6,1218.5 1457.3,1218.5C1458.9,1218.5 1460.6,1191.5 1462.3,1191.5C1464.4,1191.5 1466.6,1218.5 1468.7,1218.5C1472.5,1218.5 1476.3,1186.4 1480.1,1186.4C1482.7,1186.4 1485.2,1218.5 1487.7,1218.5C1489.1,1218.5 1490.4,1178.8 1491.7,1178.8C1493.8,1178.8 1495.9,1218.5 1498.1,1218.5C1499.9,1218.5 1501.8,1205.0 1503.6,1205.0C1506.3,1205.0 1508.9,1206.6 1511.6,1206.6C1513.4,1206.6 1515.3,1193.9 1517.1,1193.9C1519.5,1193.9 1521.9,1214.8 1524.3,1215.3C1526.4,1215.8 1528.5,1216.1 1530.6,1216.1C1532.5,1216.1 1534.3,1192.3 1536.2,1192.3C1538.0,1192.3 1539.9,1218.5 1541.7,1218.5C1543.1,1218.5 1544.4,1209.0 1545.7,1209.0C1547.0,1209.0 1548.4,1218.5 1549.7,1218.5C1552.7,1218.5 1555.8,1209.0 1558.9,1209.0C1561.1,1209.0 1563.3,1218.0 1565.5,1218.0C1568.0,1218.0 1570.5,1198.0 1573.0,1198.0C1575.5,1198.0 1578.0,1213.7 1580.5,1213.7C1582.1,1213.7 1583.7,1210.9 1585.3,1210.9C1586.8,1210.9 1588.4,1218.4 1590.0,1218.4C1591.5,1218.4 1593.1,1216.5 1594.7,1216.5C1596.6,1216.5 1598.5,1218.0 1600.3,1218.0C1602.7,1218.0 1605.1,1184.5 1607.5,1184.5C1609.7,1184.5 1611.8,1217.5 1613.9,1217.5C1615.8,1217.5 1617.7,1198.0 1619.6,1198.0C1621.8,1198.0 1624.1,1218.0 1626.4,1218.0C1628.4,1218.0 1630.4,1189.7 1632.4,1189.7C1634.2,1189.7 1635.9,1216.5 1637.7,1216.5C1639.6,1216.5 1641.5,1177.9 1643.3,1177.9C1644.9,1177.9 1646.4,1194.8 1647.9,1194.8C1649.8,1194.8 1651.6,1164.7 1653.5,1164.7C1655.3,1164.7 1657.0,1191.1 1658.8,1191.1C1660.7,1191.1 1662.6,1171.3 1664.5,1171.3C1666.4,1171.3 1668.2,1195.8 1670.1,1195.8C1671.7,1195.8 1673.3,1185.4 1674.8,1185.4C1676.7,1185.4 1678.6,1210.9 1680.5,1210.9C1682.2,1210.9 1683.9,1191.6 1685.6,1191.6C1687.7,1191.6 1689.7,1212.4 1691.8,1212.4C1693.4,1212.4 1695.0,1209.0 1696.5,1209.0C1698.1,1209.0 1699.7,1210.9 1701.2,1210.9C1704.2,1210.9 1707.1,1171.3 1710.1,1171.3C1712.5,1171.3 1714.9,1218.4 1717.3,1218.4C1719.0,1218.4 1720.8,1196.7 1722.6,1196.7C1724.2,1196.7 1725.9,1214.6 1727.6,1214.6C1729.5,1214.6 1731.4,1183.5 1733.3,1183.5C1735.2,1183.5 1737.1,1214.6 1739.0,1214.6C1740.8,1214.6 1742.7,1181.6 1744.6,1181.6C1746.8,1181.6 1749.0,1214.6 1751.2,1214.6C1752.8,1214.6 1754.4,1205.6 1755.9,1205.6C1757.8,1205.6 1759.7,1218.0 1761.6,1218.0C1763.8,1218.0 1766.0,1193.9 1768.2,1193.9C1770.1,1193.9 1772.0,1195.9 1773.8,1196.7C1776.0,1197.7 1778.2,1199.2 1780.4,1199.2C1782.0,1199.2 1783.6,1193.5 1785.2,1193.5C1787.2,1193.5 1789.2,1209.0 1791.2,1209.0C1793.1,1209.0 1795.0,1190.1 1796.9,1190.1C1798.6,1190.1 1800.4,1209.0 1802.1,1209.0C1804.0,1209.0 1805.9,1186.7 1807.8,1186.7C1810.0,1186.7 1812.2,1209.0 1814.4,1209.0C1816.1,1209.0 1817.8,1196.7 1819.5,1196.7C1821.6,1196.7 1823.6,1209.9 1825.7,1209.9C1828.7,1209.9 1831.6,1197.3 1834.6,1197.3C1837.0,1197.3 1839.3,1216.1 1841.7,1216.1C1845.2,1216.1 1848.7,1196.9 1852.1,1193.5C1854.0,1191.7 1855.9,1189.7 1857.8,1189.7C1860.1,1189.7 1862.4,1202.9 1864.7,1202.9C1867.1,1202.9 1869.5,1193.9 1871.9,1193.9C1874.1,1193.9 1876.3,1202.9 1878.5,1202.9C1880.7,1202.9 1882.9,1194.3 1885.1,1194.3C1888.1,1194.3 1891.1,1201.1 1894.2,1201.1C1896.8,1201.1 1899.4,1191.0 1902.1,1190.1C1903.7,1189.6 1905.2,1189.6 1906.8,1189.2C1906.9,1189.2 1907.0,1189.1 1907.1,1189.1C1908.6,1188.2 1910.1,1180.0 1911.6,1180.0C1913.8,1180.0 1915.9,1188.5 1918.0,1188.5C1919.3,1188.5 1920.5,1178.9 1921.8,1178.9C1923.6,1178.9 1925.3,1194.4 1927.1,1194.4C1929.3,1194.4 1931.4,1161.8 1933.5,1161.8C1935.7,1161.8 1937.8,1201.3 1939.9,1201.3C1941.7,1201.3 1943.5,1180.5 1945.3,1180.5C1947.4,1180.5 1949.5,1206.1 1951.7,1206.1C1953.5,1206.1 1955.2,1192.8 1957.0,1192.8C1958.4,1192.8 1959.9,1195.1 1961.3,1195.5C1962.5,1195.8 1963.8,1195.7 1965.0,1196.0C1966.8,1196.5 1968.6,1217.9 1970.4,1217.9C1972.9,1217.9 1975.3,1187.9 1977.8,1186.9C1978.6,1186.6 1979.3,1186.6 1980.0,1186.4"/>
<path fill="none" stroke="#0000ff" stroke-width="4.7" stroke-linejoin="round" stroke-linecap="butt" shape-rendering="crispEdges" d="M147.2,966.9C148.9,977.9 150.6,999.9 152.3,999.9C153.5,999.9 154.8,999.9 156.0,999.9C157.7,999.9 159.4,984.8 161.1,984.8C162.6,984.8 164.0,1006.1 165.5,1006.1C167.0,1006.1 168.6,1006.1 170.2,1006.1C171.1,1006.1 172.1,1001.8 173.0,1001.8C173.9,1001.8 174.9,1006.1 175.8,1006.1C177.8,1006.1 179.9,1006.1 181.9,1006.1C183.5,1006.1 185.1,977.3 186.8,977.3C188.8,977.3 190.8,992.6 192.8,995.2C194.7,997.7 196.6,999.9 198.5,999.9C200.3,999.9 202.2,984.8 204.1,984.8C205.4,984.8 206.6,985.4 207.9,985.4C209.0,985.4 210.2,978.2 211.3,978.2C212.8,978.2 214.3,995.2 215.8,995.2C217.6,995.2 219.3,970.3 221.1,970.3C222.9,970.3 224.6,983.0 226.4,983.0C228.7,983.0 231.0,928.3 233.3,928.3C234.3,928.3 235.2,928.3 236.2,928.3C238.1,928.3 240.0,934.0 241.8,940.5C244.0,948.1 246.2,1001.8 248.4,1001.8C251.6,1001.8 254.7,998.4 257.9,993.3C259.6,990.6 261.3,970.7 263.0,970.7C265.3,970.7 267.7,1006.1 270.1,1006.1C273.9,1006.1 277.7,1006.1 281.4,1006.1C282.8,1006.1 284.2,978.2 285.6,978.2C287.3,978.2 289.1,1006.1 290.9,1006.1C292.3,1006.1 293.6,1006.1 295.0,1006.1C296.8,1006.1 298.5,986.2 300.3,986.2C301.9,986.2 303.4,997.1 305.0,997.1C306.6,997.1 308.2,993.3 309.7,993.3C311.3,993.3 312.9,996.1 314.4,998.0C316.0,1000.0 317.6,1006.1 319.2,1006.1C321.4,1006.1 323.6,976.0 325.8,976.0C327.3,976.0 328.9,987.7 330.5,987.7C331.7,987.7 333.0,971.6 334.2,971.6C335.8,971.6 337.4,979.0 339.0,980.1C340.4,981.1 341.8,980.9 343.3,982.0C345.3,983.5 347.3,1006.1 349.3,1006.1C352.2,1006.1 355.0,974.5 357.8,974.5C359.9,974.5 362.0,1006.1 364.0,1006.1C366.4,1006.1 368.7,958.4 371.0,958.4C373.3,958.4 375.7,1006.1 378.0,1006.1C380.4,1006.1 382.8,983.9 385.2,983.9C386.4,983.9 387.7,985.8 388.9,985.8C391.1,985.8 393.3,978.2 395.5,978.2C398.4,978.2 401.2,995.2 404.0,995.2C405.6,995.2 407.2,986.2 408.7,986.2C410.3,986.2 411.9,1000.9 413.4,1000.9C415.2,1000.9 417.0,981.1 418.7,981.1C420.7,981.1 422.8,1005.6 424.8,1005.6C427.3,1005.6 429.8,970.3 432.3,970.3C433.9,970.3 435.5,983.0 437.0,983.0C438.6,983.0 440.2,973.5 441.7,973.5C443.9,973.5 446.1,1006.1 448.3,1006.1C449.6,1006.1 450.9,1006.1 452.1,1006.1C454.7,1006.1 457.4,971.6 460.0,971.6C462.1,971.6 464.2,1006.1 466.3,1006.1C467.8,1006.1 469.4,983.8 471.0,983.0C473.5,981.7 476.0,981.1 478.5,981.1C480.7,981.1 482.9,996.2 485.1,996.2C486.7,996.2 488.3,990.5 489.8,990.5C492.0,990.5 494.2,1006.1 496.4,1006.1C497.7,1006.1 498.9,1006.1 500.2,1006.1C502.1,1006.1 504.0,990.5 505.9,990.5C507.1,990.5 508.4,998.0 509.6,998.0C511.2,998.0 512.8,986.7 514.3,986.7C515.9,986.7 517.5,991.3 519.1,995.2C519.7,996.8 520.3,1001.8 520.9,1001.8C523.1,1001.8 525.3,982.0 527.5,982.0C529.4,982.0 531.3,986.9 533.2,991.4C534.5,994.5 535.7,1006.1 537.0,1006.1C538.9,1006.1 540.7,990.2 542.6,988.6C543.9,987.6 545.1,987.9 546.4,986.7C547.3,985.9 548.3,978.7 549.2,977.3C550.7,975.2 552.1,973.5 553.6,973.5C555.1,973.5 556.7,996.2 558.3,996.2C559.9,996.2 561.4,974.8 563.0,974.8C564.1,974.8 565.1,976.6 566.2,978.2C567.5,980.2 568.7,989.6 570.0,989.6C571.2,989.6 572.5,989.6 573.7,989.6C575.4,989.6 577.1,1004.3 578.8,1004.3C580.3,1004.3 581.7,993.1 583.2,990.5C585.1,987.1 586.9,983.5 588.8,983.5C590.1,983.5 591.3,983.6 592.6,983.9C593.5,984.1 594.5,990.5 595.4,990.5C597.6,990.5 599.8,985.4 602.0,985.4C603.6,985.4 605.2,986.0 606.7,987.3C607.7,988.0 608.6,1000.9 609.6,1000.9C611.8,1000.9 614.0,981.3 616.2,975.4C617.8,971.2 619.3,965.4 620.9,965.4C623.4,965.4 625.9,998.0 628.4,998.0C630.5,998.0 632.6,996.5 634.7,994.3C636.5,992.2 638.4,969.2 640.3,969.2C641.8,969.2 643.3,988.6 644.8,988.6C646.3,988.6 647.7,981.1 649.2,981.1C650.8,981.1 652.3,987.4 653.9,988.6C655.2,989.6 656.4,989.6 657.7,990.5C659.6,991.9 661.4,999.9 663.3,999.9C664.5,999.9 665.6,999.9 666.7,999.9C667.8,999.9 668.9,1006.1 669.9,1006.1C671.2,1006.1 672.4,1006.1 673.7,1006.1C675.0,1006.1 676.2,977.9 677.5,976.0C678.4,974.6 679.4,973.5 680.3,973.5C682.1,973.5 683.8,999.9 685.6,999.9C687.0,999.9 688.3,996.2 689.7,996.2C691.0,996.2 692.2,1000.9 693.5,1000.9C695.1,1000.9 696.6,990.1 698.2,989.6C699.8,989.0 701.4,988.6 702.9,988.6C704.8,988.6 706.7,990.5 708.6,990.5C710.2,990.5 711.7,969.2 713.3,969.2C714.2,969.2 715.2,969.2 716.1,969.2C717.4,969.2 718.6,991.4 719.9,991.4C721.0,991.4 722.2,971.6 723.3,971.6C724.2,971.6 725.1,971.6 725.9,971.6C727.1,971.6 728.2,989.3 729.3,990.5C731.8,993.1 734.4,994.3 736.9,994.3C738.4,994.3 740.0,985.4 741.6,985.4C742.8,985.4 744.1,987.9 745.4,989.6C747.2,992.1 749.1,999.9 751.0,999.9C752.3,999.9 753.5,987.6 754.8,987.3C758.2,986.4 761.7,987.0 765.2,986.2C766.9,985.7 768.7,969.2 770.4,969.2C772.1,969.2 773.8,984.8 775.5,984.8C776.8,984.8 778.0,984.8 779.3,984.8C780.8,984.8 782.2,1003.1 783.6,1003.1C785.3,1003.1 787.0,990.5 788.7,990.5C790.6,990.5 792.5,1002.4 794.4,1002.4C796.3,1002.4 798.2,992.9 800.0,992.9C801.9,992.9 803.8,1002.4 805.7,1002.4C807.3,1002.4 808.9,988.6 810.4,988.6C811.7,988.6 812.9,988.8 814.2,989.2C815.5,989.5 816.7,997.8 818.0,998.6C819.2,999.4 820.5,999.9 821.7,999.9C823.3,999.9 824.9,996.2 826.5,996.2C828.7,996.2 830.9,1006.1 833.1,1006.1C834.9,1006.1 836.8,1006.1 838.7,1006.1C840.0,1006.1 841.2,984.8 842.5,984.8C844.4,984.8 846.3,1003.7 848.1,1003.7C850.2,1003.7 852.2,980.5 854.2,980.5C856.2,980.5 858.3,1002.4 860.4,1002.4C861.7,1002.4 862.9,1001.8 864.2,1001.8C865.1,1001.8 866.1,1006.1 867.0,1006.1C868.4,1006.1 869.8,1002.4 871.1,1002.4C872.6,1002.4 874.0,1006.1 875.5,1006.1C877.2,1006.1 878.9,993.3 880.6,993.3C882.7,993.3 884.7,1006.1 886.8,1006.1C888.7,1006.1 890.6,1004.3 892.5,1001.8C893.7,1000.1 895.0,987.7 896.2,987.7C897.5,987.7 898.7,988.4 900.0,989.6C900.9,990.5 901.9,1005.6 902.8,1005.6C904.7,1005.6 906.6,983.0 908.5,983.0C910.4,983.0 912.3,1000.9 914.1,1000.9C916.7,1000.9 919.2,971.6 921.7,971.6C923.9,971.6 926.1,993.3 928.3,993.3C929.9,993.3 931.4,992.1 933.0,990.5C934.9,988.6 936.8,970.7 938.7,970.7C940.2,970.7 941.8,981.1 943.4,981.1C945.4,981.1 947.4,980.7 949.4,980.1C951.2,979.6 952.9,973.5 954.7,973.5C957.8,973.5 961.0,1001.8 964.1,1001.8C966.9,1001.8 969.8,983.0 972.6,983.0C974.2,983.0 975.7,1001.8 977.3,1001.8C979.5,1001.8 981.7,980.1 983.9,980.1C986.1,980.1 988.3,999.9 990.5,999.9C992.4,999.9 994.3,984.3 996.2,984.3C999.3,984.3 1002.5,1006.1 1005.6,1006.1C1008.1,1006.1 1010.6,987.3 1013.2,987.3C1016.3,987.3 1019.4,987.3 1022.6,987.3C1024.8,987.3 1027.0,1000.9 1029.2,1000.9C1031.4,1000.9 1033.6,970.7 1035.8,970.7C1038.0,970.7 1040.2,999.9 1042.4,999.9C1044.3,999.9 1046.2,983.0 1048.0,983.0C1050.9,983.0 1053.7,1000.9 1056.5,1000.9C1058.5,1000.9 1060.5,973.0 1062.6,973.0C1064.6,973.0 1066.7,1003.7 1068.8,1003.7C1072.6,1003.7 1076.3,982.0 1080.1,982.0C1082.3,982.0 1084.5,999.0 1086.7,999.0C1088.6,999.0 1090.5,980.5 1092.4,980.5C1094.1,980.5 1095.9,1006.1 1097.6,1006.1C1099.8,1006.1 1101.9,974.5 1104.0,974.5C1106.1,974.5 1108.2,999.9 1110.3,999.9C1111.5,999.9 1112.8,992.3 1114.0,991.4C1115.6,990.3 1117.2,990.7 1118.8,989.6C1120.3,988.5 1121.9,976.4 1123.5,976.4C1125.4,976.4 1127.2,981.2 1129.1,984.8C1131.3,989.1 1133.5,1003.7 1135.7,1003.7C1137.3,1003.7 1138.9,980.1 1140.4,980.1C1142.3,980.1 1144.2,1006.1 1146.1,1006.1C1148.0,1006.1 1149.9,984.8 1151.8,984.8C1153.0,984.8 1154.3,985.4 1155.5,985.4C1157.0,985.4 1158.4,971.6 1159.9,971.6C1162.0,971.6 1164.1,1006.1 1166.3,1006.1C1168.4,1006.1 1170.4,982.0 1172.5,982.0C1174.1,982.0 1175.6,999.0 1177.2,999.0C1179.1,999.0 1181.0,987.3 1182.9,987.3C1186.0,987.3 1189.2,989.6 1192.3,992.4C1194.5,994.3 1196.7,1005.6 1198.9,1005.6C1201.0,1005.6 1203.1,985.8 1205.1,985.8C1206.8,985.8 1208.5,999.7 1210.2,1000.9C1211.5,1001.7 1212.7,1002.4 1214.0,1002.4C1216.5,1002.4 1219.0,991.4 1221.5,991.4C1222.8,991.4 1224.1,998.0 1225.3,998.0C1227.4,998.0 1229.5,983.0 1231.5,983.0C1234.2,983.0 1236.8,992.4 1239.5,995.2C1241.3,997.2 1243.2,997.9 1245.1,999.9C1246.5,1001.4 1247.9,1006.1 1249.3,1006.1C1253.3,1006.1 1257.4,965.2 1261.4,965.2C1262.8,965.2 1264.1,984.4 1265.4,985.0C1266.5,985.5 1267.5,985.4 1268.6,985.8C1270.2,986.4 1271.8,990.6 1273.3,990.6C1275.6,990.6 1277.8,951.7 1280.0,951.7C1281.9,951.7 1283.8,966.0 1285.7,966.0C1287.9,966.0 1290.0,904.8 1292.1,904.8C1293.7,904.8 1295.3,926.3 1296.9,926.3C1298.8,926.3 1300.8,873.8 1302.7,873.8C1304.1,873.8 1305.4,877.8 1306.7,877.8C1308.2,877.8 1309.7,854.8 1311.1,854.8C1312.6,854.8 1314.0,858.0 1315.4,858.0C1317.0,858.0 1318.6,816.7 1320.2,816.7C1322.3,816.7 1324.4,871.5 1326.6,871.5C1328.5,871.5 1330.5,827.3 1332.4,827.3C1334.2,827.3 1335.9,874.6 1337.7,874.6C1339.5,874.6 1341.4,872.3 1343.2,872.3C1344.8,872.3 1346.4,882.3 1348.0,885.8C1349.3,888.7 1350.6,889.5 1352.0,892.9C1354.1,898.3 1356.2,925.5 1358.3,925.5C1359.9,925.5 1361.5,910.4 1363.1,910.4C1365.2,910.4 1367.3,962.0 1369.4,962.0C1371.4,962.0 1373.3,938.2 1375.3,938.2C1376.8,938.2 1378.3,944.2 1379.8,945.3C1380.8,946.1 1381.9,946.0 1382.9,946.9C1384.5,948.3 1386.1,978.7 1387.7,978.7C1389.3,978.7 1390.9,954.8 1392.5,954.8C1394.7,954.8 1397.0,994.5 1399.3,994.5C1402.4,994.5 1405.5,973.9 1408.7,973.9C1410.6,973.9 1412.5,999.3 1414.4,999.3C1416.1,999.3 1417.8,987.4 1419.5,987.4C1421.7,987.4 1423.9,1000.1 1426.1,1000.1C1427.9,1000.1 1429.6,996.1 1431.4,996.1C1432.8,996.1 1434.2,1000.1 1435.7,1000.1C1437.7,1000.1 1439.7,977.5 1441.7,977.5C1443.9,977.5 1446.1,1004.1 1448.4,1004.1C1449.8,1004.1 1451.3,988.2 1452.8,988.2C1454.1,988.2 1455.5,1005.7 1456.8,1005.7C1458.6,1005.7 1460.5,1005.7 1462.3,1005.7C1463.9,1005.7 1465.5,994.5 1467.1,994.5C1468.9,994.5 1470.8,1001.7 1472.7,1001.7C1475.3,1001.7 1477.9,1000.2 1480.6,997.7C1481.9,996.5 1483.2,985.0 1484.6,985.0C1486.2,985.0 1487.7,1000.1 1489.3,1000.1C1491.2,1000.1 1493.0,968.3 1494.9,968.3C1496.5,968.3 1498.1,985.8 1499.7,985.8C1501.1,985.8 1502.5,959.6 1503.9,959.6C1505.7,959.6 1507.4,1004.1 1509.2,1004.1C1511.3,1004.1 1513.4,976.3 1515.5,976.3C1517.4,976.3 1519.2,987.4 1521.1,987.4C1522.4,987.4 1523.7,986.6 1525.1,986.6C1527.0,986.6 1529.0,995.3 1530.9,995.3C1532.7,995.3 1534.4,989.8 1536.2,989.8C1537.8,989.8 1539.4,992.2 1540.9,992.2C1542.3,992.2 1543.6,989.0 1544.9,989.0C1546.5,989.0 1548.1,993.0 1549.7,993.0C1551.2,993.0 1552.6,986.6 1554.1,986.6C1556.0,986.6 1557.9,1006.1 1559.8,1006.1C1561.9,1006.1 1564.0,976.0 1566.0,976.0C1567.7,976.0 1569.4,1004.2 1571.1,1004.6C1573.6,1005.3 1576.1,1005.6 1578.7,1005.6C1580.9,1005.6 1583.1,976.0 1585.3,976.0C1587.0,976.0 1588.8,999.0 1590.5,999.0C1592.2,999.0 1593.9,983.0 1595.6,983.0C1597.8,983.0 1600.0,1006.1 1602.2,1006.1C1603.6,1006.1 1605.0,996.2 1606.4,996.2C1608.0,996.2 1609.7,1003.7 1611.3,1003.7C1613.0,1003.7 1614.7,984.8 1616.4,984.8C1618.3,984.8 1620.1,1006.1 1622.0,1006.1C1624.1,1006.1 1626.2,974.8 1628.3,974.8C1630.0,974.8 1631.7,1001.8 1633.3,1001.8C1635.6,1001.8 1637.8,960.3 1640.0,960.3C1642.5,960.3 1645.0,993.3 1647.5,993.3C1649.7,993.3 1651.9,959.0 1654.1,959.0C1656.0,959.0 1657.9,979.7 1659.8,979.7C1661.8,979.7 1663.9,967.9 1666.0,967.9C1667.7,967.9 1669.4,985.8 1671.1,985.8C1673.0,985.8 1674.8,963.2 1676.7,963.2C1678.8,963.2 1680.9,994.3 1682.9,994.3C1685.0,994.3 1687.0,983.9 1689.0,983.9C1691.2,983.9 1693.4,998.6 1695.6,998.6C1697.2,998.6 1698.7,996.8 1700.3,995.2C1702.1,993.4 1703.8,986.2 1705.6,986.2C1707.3,986.2 1709.0,1006.1 1710.7,1006.1C1713.0,1006.1 1715.3,983.0 1717.6,983.0C1719.7,983.0 1721.8,1006.1 1723.9,1006.1C1726.1,1006.1 1728.3,986.7 1730.5,984.3C1732.0,982.6 1733.6,981.1 1735.2,981.1C1736.8,981.1 1738.3,982.7 1739.9,984.8C1741.3,986.7 1742.7,1003.7 1744.0,1003.7C1745.7,1003.7 1747.3,986.2 1749.0,986.2C1751.0,986.2 1753.0,1006.1 1755.0,1006.1C1756.7,1006.1 1758.5,985.8 1760.3,985.8C1762.9,985.8 1765.5,986.8 1768.2,988.6C1770.1,989.9 1772.0,1006.1 1773.8,1006.1C1776.0,1006.1 1778.2,999.9 1780.4,999.9C1781.7,999.9 1783.0,1001.8 1784.2,1001.8C1786.1,1001.8 1788.0,989.2 1789.9,989.2C1791.8,989.2 1793.6,998.7 1795.5,1000.9C1797.7,1003.4 1799.9,1006.1 1802.1,1006.1C1804.3,1006.1 1806.5,998.6 1808.7,995.2C1811.2,991.3 1813.8,984.3 1816.3,984.3C1818.5,984.3 1820.7,1006.1 1822.9,1006.1C1825.1,1006.1 1827.3,984.3 1829.5,984.3C1831.8,984.3 1834.1,1006.1 1836.5,1006.1C1839.0,1006.1 1841.5,991.8 1844.0,991.8C1846.7,991.8 1849.4,1006.1 1852.1,1006.1C1854.9,1006.1 1857.8,971.6 1860.6,971.6C1862.8,971.6 1865.0,999.0 1867.2,999.0C1869.1,999.0 1871.0,986.2 1872.9,986.2C1874.7,986.2 1876.6,995.2 1878.5,995.2C1880.1,995.2 1881.7,985.4 1883.2,985.4C1885.1,985.4 1887.0,1005.0 1888.9,1005.0C1891.1,1005.0 1893.3,974.5 1895.5,974.5C1897.2,974.5 1898.9,1001.8 1900.6,1001.8C1903.0,1001.8 1905.4,966.9 1907.7,966.9C1910.1,966.9 1912.5,986.5 1914.8,986.5C1917.9,986.5 1920.9,968.9 1923.9,968.9C1925.0,968.9 1926.1,978.5 1927.1,978.5C1929.1,978.5 1931.0,958.2 1933.0,958.2C1935.0,958.2 1936.9,987.6 1938.9,987.6C1941.2,987.6 1943.5,976.9 1945.8,976.9C1947.8,976.9 1949.7,988.7 1951.7,988.7C1953.5,988.7 1955.2,984.9 1957.0,984.9C1958.8,984.9 1960.6,986.3 1962.4,987.6C1964.5,989.2 1966.6,996.7 1968.8,996.7C1970.9,996.7 1973.0,987.1 1975.2,987.1C1976.2,987.1 1977.3,988.7 1978.4,991.3C1978.9,992.6 1979.4,999.2 1980.0,1003.1"/>
<path fill="none" stroke="#008000" stroke-width="4.7" stroke-linejoin="round" stroke-linecap="butt" shape-rendering="crispEdges" d="M146.6,773.0C148.2,774.4 149.7,776.2 151.3,777.3C152.6,778.2 153.8,778.3 155.1,779.6C156.3,780.8 157.6,789.9 158.9,789.9C159.8,789.9 160.7,789.6 161.7,789.0C162.9,788.2 164.2,763.5 165.5,763.5C166.4,763.5 167.3,767.9 168.3,772.0C169.2,776.1 170.2,794.3 171.1,794.3C179.0,794.3 186.8,794.3 194.7,794.3C195.6,794.3 196.6,786.7 197.5,786.7C199.1,786.7 200.7,794.3 202.2,794.3C207.3,794.3 212.3,794.3 217.3,794.3C218.9,794.3 220.5,778.7 222.0,775.8C223.9,772.3 225.8,773.2 227.7,769.2C228.6,767.2 229.6,757.2 230.5,751.3C231.8,743.3 233.0,727.3 234.3,727.3C235.6,727.3 236.8,741.5 238.1,751.3C239.0,758.6 240.0,778.6 240.9,778.6C242.5,778.6 244.0,773.9 245.6,773.9C247.2,773.9 248.8,783.3 250.3,783.3C253.5,783.3 256.6,774.8 259.8,774.8C260.7,774.8 261.6,775.7 262.6,776.7C263.8,778.1 265.1,794.3 266.4,794.3C267.3,794.3 268.2,794.3 269.2,794.3C270.1,794.3 271.1,785.6 272.0,785.6C273.0,785.6 273.9,794.3 274.8,794.3C275.8,794.3 276.7,794.3 277.7,794.3C279.4,794.3 281.1,754.1 282.8,754.1C284.5,754.1 286.3,794.3 288.0,794.3C291.5,794.3 295.0,794.3 298.4,794.3C299.2,794.3 299.9,784.3 300.7,784.3C301.5,784.3 302.3,794.3 303.1,794.3C304.1,794.3 305.0,794.3 306.0,794.3C307.5,794.3 309.1,768.0 310.7,767.3C311.9,766.7 313.2,766.4 314.4,766.4C316.1,766.4 317.8,793.7 319.5,793.7C321.6,793.7 323.7,767.3 325.8,767.3C327.6,767.3 329.5,792.4 331.4,792.4C333.0,792.4 334.6,760.5 336.1,753.2C337.3,747.9 338.4,741.8 339.5,741.8C340.9,741.8 342.3,750.2 343.7,755.0C345.6,761.7 347.4,777.7 349.3,777.7C351.3,777.7 353.4,762.6 355.4,762.6C357.3,762.6 359.1,784.3 361.0,784.3C362.8,784.3 364.5,759.0 366.3,757.9C368.2,756.7 370.1,756.0 372.0,756.0C373.3,756.0 374.7,774.8 376.1,774.8C377.6,774.8 379.0,767.9 380.4,767.9C382.3,767.9 384.2,784.3 386.1,784.3C389.7,784.3 393.3,759.2 396.9,759.2C399.2,759.2 401.6,785.2 404.0,785.2C405.6,785.2 407.2,765.4 408.7,765.4C410.6,765.4 412.5,789.9 414.4,789.9C416.0,789.9 417.5,767.9 419.1,767.9C421.3,767.9 423.5,791.8 425.7,791.8C428.0,791.8 430.4,764.5 432.7,764.5C435.1,764.5 437.5,775.8 439.9,775.8C442.5,775.8 445.1,767.3 447.8,767.3C449.8,767.3 451.9,780.5 454.0,780.5C456.9,780.5 459.9,764.8 462.9,764.8C464.9,764.8 467.0,790.9 469.1,790.9C471.6,790.9 474.1,769.2 476.6,769.2C478.3,769.2 480.0,778.6 481.7,778.6C484.1,778.6 486.5,765.9 488.9,764.5C491.7,762.8 494.5,761.6 497.4,761.6C498.9,761.6 500.5,771.1 502.1,771.1C503.5,771.1 504.9,768.2 506.2,768.2C508.0,768.2 509.8,788.0 511.5,788.0C514.3,788.0 517.2,762.6 520.0,762.6C521.3,762.6 522.5,763.5 523.8,764.5C525.3,765.7 526.9,775.8 528.5,775.8C530.1,775.8 531.6,762.2 533.2,761.6C534.8,761.0 536.3,760.7 537.9,760.7C540.1,760.7 542.3,768.2 544.5,768.2C546.7,768.2 548.9,752.2 551.1,752.2C553.3,752.2 555.5,780.5 557.7,780.5C559.3,780.5 560.9,777.4 562.4,774.8C564.8,771.1 567.1,756.5 569.4,756.5C571.2,756.5 572.9,783.3 574.7,783.3C576.3,783.3 577.8,779.6 579.4,779.6C581.1,779.6 582.8,789.9 584.5,789.9C587.0,789.9 589.5,754.7 592.0,754.7C593.7,754.7 595.3,772.0 596.9,772.0C598.5,772.0 600.0,762.6 601.5,762.6C603.2,762.6 605.0,771.1 606.7,771.1C608.5,771.1 610.3,756.5 612.0,756.5C613.7,756.5 615.4,760.7 617.1,760.7C618.1,760.7 619.0,756.9 620.0,756.9C621.7,756.9 623.5,772.0 625.2,772.0C627.2,772.0 629.3,753.2 631.3,753.2C633.5,753.2 635.7,777.7 637.9,777.7C639.8,777.7 641.6,768.2 643.5,768.2C645.1,768.2 646.7,768.2 648.2,768.2C649.2,768.2 650.1,775.8 651.1,775.8C652.8,775.8 654.5,759.8 656.2,759.8C657.8,759.8 659.4,776.7 661.1,776.7C662.4,776.7 663.8,772.0 665.2,772.0C667.4,772.0 669.6,789.0 671.8,789.0C673.5,789.0 675.2,770.5 676.9,770.5C678.8,770.5 680.7,792.8 682.6,792.8C684.3,792.8 686.1,774.7 687.8,773.0C689.4,771.3 691.0,771.6 692.6,770.1C693.8,768.9 695.1,762.6 696.3,762.6C698.2,762.6 700.1,769.2 702.0,769.2C703.6,769.2 705.1,768.2 706.7,768.2C708.3,768.2 709.8,784.3 711.4,784.3C713.7,784.3 716.1,767.3 718.4,767.3C720.0,767.3 721.7,780.2 723.3,781.4C724.7,782.5 726.1,782.5 727.4,783.3C728.7,784.1 730.0,787.1 731.2,787.1C732.5,787.1 733.7,783.3 735.0,783.3C736.6,783.3 738.1,794.3 739.7,794.3C741.9,794.3 744.1,753.2 746.3,753.2C747.9,753.2 749.4,788.0 751.0,788.0C752.6,788.0 754.2,773.9 755.7,773.9C756.9,773.9 758.0,775.4 759.1,775.4C760.8,775.4 762.5,769.7 764.2,769.7C767.0,769.7 769.9,785.2 772.7,785.2C775.2,785.2 777.7,774.8 780.2,774.8C782.4,774.8 784.6,785.3 786.8,786.2C790.0,787.3 793.1,788.0 796.3,788.0C798.5,788.0 800.7,766.7 802.9,766.7C805.9,766.7 808.9,791.8 811.9,791.8C814.6,791.8 817.2,778.6 819.9,778.6C821.4,778.6 823.0,789.0 824.6,789.0C826.5,789.0 828.3,770.5 830.2,770.5C833.1,770.5 835.9,791.8 838.7,791.8C841.2,791.8 843.7,775.8 846.3,775.8C847.8,775.8 849.4,781.4 851.0,781.4C852.9,781.4 854.7,779.6 856.6,779.6C858.1,779.6 859.5,793.7 861.0,793.7C863.3,793.7 865.6,767.1 867.9,763.5C869.2,761.6 870.5,759.8 871.7,759.8C873.9,759.8 876.1,770.5 878.3,770.5C879.9,770.5 881.5,770.3 883.0,770.1C884.9,769.9 886.8,765.4 888.7,765.4C890.6,765.4 892.5,791.8 894.3,791.8C896.2,791.8 898.1,765.4 900.0,765.4C901.9,765.4 903.8,779.6 905.7,779.6C908.3,779.6 910.9,746.6 913.6,746.6C916.0,746.6 918.4,774.3 920.7,774.3C922.6,774.3 924.5,753.6 926.4,752.8C928.6,751.8 930.8,752.1 933.0,751.3C935.2,750.5 937.4,745.2 939.6,745.2C940.9,745.2 942.1,746.6 943.4,746.6C944.6,746.6 945.9,738.1 947.1,738.1C949.3,738.1 951.5,768.2 953.7,768.2C955.9,768.2 958.1,748.7 960.3,746.6C961.9,745.0 963.5,743.7 965.1,743.7C966.9,743.7 968.8,767.9 970.7,767.9C972.3,767.9 973.9,756.5 975.4,756.5C977.2,756.5 979.0,771.1 980.7,771.1C982.2,771.1 983.7,760.3 985.2,760.3C987.0,760.3 988.8,766.0 990.5,766.0C992.3,766.0 994.0,758.8 995.8,758.8C997.5,758.8 999.2,765.3 1000.9,770.1C1002.2,773.7 1003.4,784.3 1004.7,784.3C1006.6,784.3 1008.4,767.3 1010.3,767.3C1013.8,767.3 1017.2,787.1 1020.7,787.1C1023.3,787.1 1026.0,753.5 1028.6,753.5C1030.4,753.5 1032.1,773.0 1033.9,773.0C1035.2,773.0 1036.4,771.1 1037.7,771.1C1039.7,771.1 1041.7,787.5 1043.7,787.5C1045.8,787.5 1047.9,766.7 1049.9,766.7C1051.8,766.7 1053.7,792.8 1055.6,792.8C1057.2,792.8 1058.7,777.3 1060.3,775.4C1061.9,773.5 1063.4,773.3 1065.0,772.0C1066.6,770.7 1068.2,767.3 1069.7,767.3C1070.7,767.3 1071.6,770.1 1072.6,770.1C1074.1,770.1 1075.7,766.7 1077.3,766.7C1079.0,766.7 1080.8,790.5 1082.6,790.5C1085.8,790.5 1089.1,762.2 1092.4,762.2C1094.6,762.2 1096.8,778.6 1099.0,778.6C1100.8,778.6 1102.7,776.2 1104.6,773.9C1106.5,771.6 1108.4,761.6 1110.3,761.6C1111.8,761.6 1113.4,769.2 1115.0,769.2C1116.6,769.2 1118.1,764.5 1119.7,764.5C1121.6,764.5 1123.5,770.5 1125.4,773.0C1127.6,775.8 1129.8,780.5 1132.0,780.5C1134.2,780.5 1136.4,764.5 1138.6,764.5C1140.4,764.5 1142.3,780.5 1144.2,780.5C1146.3,780.5 1148.4,766.7 1150.4,766.7C1152.1,766.7 1153.8,774.8 1155.5,774.8C1157.9,774.8 1160.2,768.2 1162.5,768.2C1165.2,768.2 1167.9,777.7 1170.6,777.7C1172.8,777.7 1175.0,772.0 1177.2,772.0C1180.0,772.0 1182.9,782.4 1185.7,782.4C1187.6,782.4 1189.5,772.0 1191.4,772.0C1193.1,772.0 1194.8,788.6 1196.5,788.6C1198.7,788.6 1201.0,764.8 1203.2,764.8C1206.8,764.8 1210.4,790.9 1214.0,790.9C1217.6,790.9 1221.2,761.6 1224.7,761.6C1227.0,761.6 1229.3,789.9 1231.5,789.9C1234.7,789.9 1237.8,758.8 1241.0,758.8C1243.0,758.8 1245.0,786.2 1247.0,786.2C1249.5,786.2 1252.0,744.1 1254.5,744.1C1256.6,744.1 1258.6,773.2 1260.6,774.8C1260.7,774.9 1260.8,775.0 1260.9,775.0C1262.9,775.0 1265.0,743.7 1267.0,743.7C1268.5,743.7 1270.0,755.2 1271.4,755.2C1272.9,755.2 1274.3,736.3 1275.7,736.1C1277.8,735.9 1280.0,735.8 1282.1,735.8C1283.5,735.8 1284.9,747.2 1286.4,747.2C1288.6,747.2 1290.9,700.4 1293.2,700.4C1294.8,700.4 1296.4,718.3 1298.0,718.3C1300.9,718.3 1303.8,652.3 1306.7,652.3C1308.3,652.3 1309.9,664.3 1311.5,664.3C1313.3,664.3 1315.2,621.0 1317.0,621.0C1318.8,621.0 1320.5,655.1 1322.3,655.1C1324.8,655.1 1327.2,612.2 1329.7,612.2C1330.4,612.2 1331.1,648.0 1331.8,648.0C1333.2,648.0 1334.7,640.0 1336.1,640.0C1337.5,640.0 1338.9,664.5 1340.4,667.8C1342.1,671.8 1343.9,671.6 1345.6,675.0C1347.2,678.1 1348.8,690.8 1350.4,690.8C1352.2,690.8 1354.1,682.9 1355.9,682.9C1358.2,682.9 1360.4,746.4 1362.6,746.4C1364.5,746.4 1366.4,710.4 1368.3,710.4C1369.7,710.4 1371.2,729.1 1372.6,732.1C1374.2,735.5 1375.8,735.3 1377.4,738.5C1378.6,740.9 1379.8,752.3 1381.0,752.3C1382.7,752.3 1384.4,743.3 1386.1,743.3C1388.0,743.3 1389.8,754.8 1391.7,757.5C1394.0,761.0 1396.4,764.7 1398.8,764.7C1400.9,764.7 1403.0,764.0 1405.2,763.1C1406.6,762.5 1408.1,758.3 1409.6,758.3C1411.6,758.3 1413.5,790.9 1415.5,790.9C1417.1,790.9 1418.7,775.0 1420.2,775.0C1421.7,775.0 1423.1,793.3 1424.5,793.3C1426.5,793.3 1428.6,759.6 1430.6,759.6C1433.2,759.6 1435.9,794.1 1438.5,794.1C1440.6,794.1 1442.7,790.5 1444.9,788.5C1446.9,786.6 1448.9,782.2 1450.9,782.2C1452.7,782.2 1454.5,794.9 1456.3,794.9C1459.3,794.9 1462.2,777.4 1465.2,777.4C1466.8,777.4 1468.4,794.1 1470.0,794.1C1471.8,794.1 1473.6,775.5 1475.4,775.5C1477.4,775.5 1479.4,790.9 1481.4,790.9C1484.0,790.9 1486.7,790.6 1489.3,790.1C1492.1,789.6 1494.8,765.5 1497.6,765.5C1499.6,765.5 1501.6,788.5 1503.6,788.5C1505.2,788.5 1506.8,773.4 1508.4,773.4C1510.4,773.4 1512.4,793.3 1514.4,793.3C1516.9,793.3 1519.4,778.2 1521.9,778.2C1523.5,778.2 1525.1,787.7 1526.7,787.7C1528.2,787.7 1529.8,767.1 1531.4,767.1C1533.5,767.1 1535.6,793.3 1537.8,793.3C1540.1,793.3 1542.5,792.4 1544.9,790.9C1546.9,789.6 1548.9,771.0 1550.9,771.0C1553.2,771.0 1555.4,794.9 1557.6,794.9C1559.6,794.9 1561.6,794.8 1563.6,794.6C1565.1,794.5 1566.7,783.3 1568.3,783.3C1569.9,783.3 1571.4,789.9 1573.0,789.9C1574.9,789.9 1576.8,784.8 1578.7,784.8C1580.5,784.8 1582.4,794.6 1584.3,794.6C1586.5,794.6 1588.7,794.6 1590.9,794.6C1592.5,794.6 1594.1,789.3 1595.6,786.2C1597.5,782.3 1599.4,773.0 1601.3,773.0C1603.0,773.0 1604.7,793.7 1606.4,793.7C1608.5,793.7 1610.5,768.2 1612.6,768.2C1614.5,768.2 1616.4,793.7 1618.3,793.7C1620.8,793.7 1623.3,789.6 1625.8,786.2C1627.7,783.6 1629.6,774.3 1631.5,774.3C1633.2,774.3 1634.9,790.9 1636.6,790.9C1638.6,790.9 1640.7,774.3 1642.8,774.3C1644.4,774.3 1645.9,775.4 1647.5,775.4C1649.4,775.4 1651.3,750.3 1653.2,750.3C1654.9,750.3 1656.7,761.6 1658.4,761.6C1660.1,761.6 1661.8,758.4 1663.5,758.4C1664.6,758.4 1665.7,769.5 1666.7,771.1C1668.5,773.6 1670.2,772.8 1672.0,775.4C1673.3,777.3 1674.5,794.6 1675.8,794.6C1678.0,794.6 1680.2,764.1 1682.4,764.1C1684.3,764.1 1686.2,794.6 1688.0,794.6C1690.1,794.6 1692.2,774.3 1694.3,774.3C1696.3,774.3 1698.3,792.4 1700.3,792.4C1702.3,792.4 1704.3,773.9 1706.3,773.9C1709.7,773.9 1713.0,794.6 1716.3,794.6C1717.6,794.6 1718.8,794.6 1720.1,794.6C1722.6,794.6 1725.1,766.0 1727.6,766.0C1730.2,766.0 1732.7,784.3 1735.2,784.3C1737.7,784.3 1740.2,780.5 1742.7,780.5C1744.8,780.5 1746.9,787.1 1749.0,787.1C1751.5,787.1 1754.0,767.9 1756.5,767.9C1758.8,767.9 1761.1,793.7 1763.5,793.7C1765.5,793.7 1767.6,772.0 1769.7,772.0C1771.6,772.0 1773.5,789.9 1775.4,789.9C1777.1,789.9 1778.7,784.0 1780.4,783.7C1782.0,783.5 1783.6,783.6 1785.2,783.3C1787.0,783.0 1788.9,763.5 1790.8,763.5C1794.0,763.5 1797.1,794.6 1800.2,794.6C1801.8,794.6 1803.4,794.6 1805.0,794.6C1807.8,794.6 1810.6,778.0 1813.4,776.7C1815.0,776.0 1816.6,775.4 1818.2,775.4C1820.2,775.4 1822.3,786.2 1824.4,786.2C1826.7,786.2 1829.0,771.1 1831.4,771.1C1833.3,771.1 1835.1,771.4 1837.0,772.0C1838.9,772.6 1840.8,792.4 1842.7,792.4C1844.6,792.4 1846.5,770.5 1848.3,770.5C1849.9,770.5 1851.5,778.6 1853.1,778.6C1854.8,778.6 1856.6,765.4 1858.3,765.4C1860.0,765.4 1861.7,782.4 1863.4,782.4C1865.3,782.4 1867.2,767.3 1869.1,767.3C1871.0,767.3 1872.9,780.0 1874.7,780.5C1876.9,781.1 1879.1,781.4 1881.3,781.4C1883.2,781.4 1885.1,780.6 1887.0,779.6C1888.6,778.7 1890.1,773.5 1891.7,773.5C1893.9,773.5 1896.1,793.7 1898.3,793.7C1900.5,793.7 1902.7,762.6 1904.9,762.6C1906.4,762.6 1908.0,771.2 1909.5,771.2C1911.5,771.2 1913.4,760.0 1915.4,760.0C1917.2,760.0 1918.9,772.3 1920.7,772.3C1922.8,772.3 1925.0,756.2 1927.1,756.2C1928.9,756.2 1930.7,762.6 1932.5,763.2C1934.1,763.7 1935.7,763.5 1937.3,764.0C1938.7,764.5 1940.1,777.6 1941.5,777.6C1943.7,777.6 1945.8,748.2 1947.9,748.2C1949.9,748.2 1951.9,788.8 1953.8,788.8C1955.2,788.8 1956.7,784.5 1958.1,784.5C1959.5,784.5 1960.9,787.2 1962.4,787.2C1964.3,787.2 1966.3,764.3 1968.2,764.3C1970.2,764.3 1972.1,778.1 1974.1,778.1C1975.3,778.1 1976.6,772.8 1977.8,772.8C1978.6,772.8 1979.3,777.1 1980.0,779.2"/>
<path fill="none" stroke="#800080" stroke-width="4.7" stroke-linejoin="round" stroke-linecap="butt" shape-rendering="crispEdges" d="M146.6,552.6C148.7,545.0 150.7,530.0 152.8,530.0C155.5,530.0 158.1,580.9 160.7,580.9C163.3,580.9 165.8,555.4 168.3,555.4C169.9,555.4 171.4,573.3 173.0,573.3C174.1,573.3 175.1,558.2 176.2,558.2C178.1,558.2 180.0,581.8 181.9,581.8C183.6,581.8 185.4,555.4 187.1,555.4C188.5,555.4 189.9,579.0 191.3,579.0C192.4,579.0 193.6,569.6 194.7,569.6C196.4,569.6 198.2,572.4 200.0,572.4C201.7,572.4 203.4,552.6 205.1,552.6C206.9,552.6 208.8,573.3 210.7,573.3C213.5,573.3 216.4,533.3 219.2,533.3C220.8,533.3 222.3,547.9 223.9,547.9C226.6,547.9 229.3,500.2 232.0,500.2C233.9,500.2 235.8,520.1 237.7,520.1C239.7,520.1 241.7,503.2 243.7,503.2C246.6,503.2 249.4,563.9 252.2,563.9C253.8,563.9 255.4,554.5 256.9,554.5C258.2,554.5 259.4,554.8 260.7,555.4C262.0,556.0 263.2,573.3 264.5,573.3C267.0,573.3 269.5,571.2 272.0,569.6C273.1,568.8 274.3,566.7 275.4,566.7C276.8,566.7 278.2,576.2 279.6,576.2C281.1,576.2 282.7,564.8 284.3,564.8C285.8,564.8 287.4,581.8 289.0,581.8C290.6,581.8 292.1,572.4 293.7,572.4C294.6,572.4 295.6,581.8 296.5,581.8C297.8,581.8 299.0,581.8 300.3,581.8C301.2,581.8 302.2,569.2 303.1,567.7C304.1,566.1 305.0,566.1 306.0,564.8C307.8,562.2 309.7,549.8 311.6,549.8C313.8,549.8 316.0,581.8 318.2,581.8C321.7,581.8 325.1,581.8 328.6,581.8C330.5,581.8 332.4,537.9 334.2,537.9C336.3,537.9 338.3,579.0 340.3,579.0C341.5,579.0 342.8,568.6 344.0,568.6C345.5,568.6 346.9,581.8 348.4,581.8C350.3,581.8 352.2,573.3 354.0,573.3C355.3,573.3 356.6,581.8 357.8,581.8C359.6,581.8 361.3,561.1 363.1,561.1C365.1,561.1 367.1,579.9 369.1,579.9C370.4,579.9 371.6,573.3 372.9,573.3C373.8,573.3 374.8,579.0 375.7,579.0C378.2,579.0 380.8,561.1 383.3,561.1C385.8,561.1 388.3,572.4 390.8,572.4C393.0,572.4 395.2,551.6 397.4,551.6C399.3,551.6 401.2,581.8 403.1,581.8C404.0,581.8 405.0,581.8 405.9,581.8C406.8,581.8 407.8,563.0 408.7,563.0C410.0,563.0 411.2,581.8 412.5,581.8C417.5,581.8 422.6,581.8 427.6,581.8C428.9,581.8 430.1,563.7 431.4,562.0C433.9,558.6 436.4,556.7 438.9,556.7C440.6,556.7 442.3,571.4 444.0,571.4C445.8,571.4 447.5,555.4 449.3,555.4C450.9,555.4 452.4,557.8 454.0,560.1C455.9,562.9 457.8,576.2 459.7,576.2C460.9,576.2 462.2,570.5 463.4,570.5C465.3,570.5 467.2,570.9 469.1,571.4C470.7,571.9 472.2,579.0 473.8,579.0C476.2,579.0 478.6,554.5 481.0,554.5C482.3,554.5 483.7,567.7 485.1,567.7C487.0,567.7 488.9,545.0 490.8,545.0C493.6,545.0 496.4,579.0 499.3,579.0C502.4,579.0 505.5,534.7 508.7,534.7C509.9,534.7 511.2,546.9 512.5,546.9C514.7,546.9 516.9,535.6 519.1,535.6C519.4,535.6 519.7,535.6 520.0,535.6C520.9,535.6 521.9,547.9 522.8,547.9C524.7,547.9 526.6,542.3 528.5,540.3C530.2,538.6 531.9,536.0 533.6,536.0C535.0,536.0 536.5,554.5 537.9,554.5C540.0,554.5 542.1,544.1 544.1,544.1C545.5,544.1 546.9,547.9 548.3,547.9C550.5,547.9 552.7,539.4 554.9,539.4C557.1,539.4 559.3,561.1 561.5,561.1C567.1,561.1 572.8,524.3 578.5,524.3C580.9,524.3 583.2,552.6 585.6,552.6C587.0,552.6 588.4,543.2 589.8,543.2C591.0,543.2 592.3,549.8 593.5,549.8C594.9,549.8 596.3,540.3 597.7,540.3C600.0,540.3 602.2,580.9 604.5,580.9C607.0,580.9 609.5,542.2 612.0,542.2C614.2,542.2 616.3,563.9 618.4,563.9C621.1,563.9 623.8,541.3 626.6,541.3C628.8,541.3 631.0,555.8 633.2,558.2C634.4,559.6 635.7,561.1 636.9,561.1C639.4,561.1 642.0,558.7 644.5,555.4C645.9,553.5 647.4,540.3 648.8,540.3C650.5,540.3 652.2,563.0 653.9,563.0C655.5,563.0 657.0,546.9 658.6,546.9C660.3,546.9 662.0,572.4 663.7,572.4C665.1,572.4 666.6,563.9 668.0,563.9C669.5,563.9 670.9,579.0 672.4,579.0C674.5,579.0 676.7,553.5 678.8,553.5C680.9,553.5 682.9,555.5 685.0,558.2C686.6,560.3 688.2,577.1 689.7,577.1C691.7,577.1 693.8,562.0 695.8,562.0C698.5,562.0 701.2,576.2 703.9,576.2C705.4,576.2 707.0,574.1 708.6,572.4C710.8,569.9 713.0,559.2 715.2,559.2C717.5,559.2 719.8,575.2 722.2,575.2C723.6,575.2 725.1,564.3 726.5,564.3C728.7,564.3 730.9,575.2 733.1,575.2C734.5,575.2 735.9,570.5 737.3,570.5C738.9,570.5 740.5,575.6 742.2,575.6C744.5,575.6 746.8,573.3 749.1,573.3C751.2,573.3 753.3,576.7 755.4,576.7C756.6,576.7 757.9,570.5 759.1,570.5C760.4,570.5 761.6,580.5 762.9,580.5C764.3,580.5 765.7,576.3 767.0,573.3C769.6,567.8 772.1,549.2 774.6,549.2C776.4,549.2 778.1,581.8 779.9,581.8C780.6,581.8 781.4,581.8 782.1,581.8C783.5,581.8 784.9,556.7 786.3,556.7C788.4,556.7 790.4,569.1 792.5,570.5C794.1,571.5 795.6,571.3 797.2,572.4C798.8,573.4 800.4,581.8 801.9,581.8C803.2,581.8 804.4,581.8 805.7,581.8C807.4,581.8 809.1,554.8 810.8,554.8C812.9,554.8 814.9,560.1 817.0,560.1C818.5,560.1 819.9,553.5 821.4,553.5C823.4,553.5 825.4,570.5 827.4,570.5C829.3,570.5 831.2,568.1 833.1,566.7C834.9,565.3 836.8,562.0 838.7,562.0C840.0,562.0 841.2,573.3 842.5,573.3C844.4,573.3 846.3,550.3 848.1,550.3C850.0,550.3 851.9,577.1 853.8,577.1C855.7,577.1 857.6,558.2 859.5,558.2C861.0,558.2 862.6,560.1 864.2,560.1C865.4,560.1 866.7,558.2 867.9,558.2C869.5,558.2 871.1,565.4 872.7,567.7C875.2,571.4 877.7,576.2 880.2,576.2C883.0,576.2 885.9,550.1 888.7,550.1C890.6,550.1 892.5,571.4 894.3,571.4C896.2,571.4 898.1,552.6 900.0,552.6C900.1,552.6 900.2,555.4 900.3,555.4C902.4,555.4 904.5,544.1 906.6,544.1C908.2,544.1 909.7,546.0 911.3,546.0C912.7,546.0 914.1,534.7 915.5,534.7C917.2,534.7 919.0,564.8 920.7,564.8C922.3,564.8 923.9,555.4 925.5,555.4C926.7,555.4 928.0,560.1 929.2,560.1C931.1,560.1 933.0,531.3 934.9,528.1C937.1,524.3 939.3,521.5 941.5,521.5C944.0,521.5 946.5,527.5 949.0,528.1C951.2,528.6 953.4,528.4 955.6,529.0C957.2,529.5 958.8,553.5 960.3,553.5C962.4,553.5 964.4,526.2 966.4,526.2C968.8,526.2 971.2,560.1 973.5,560.1C975.4,560.1 977.3,550.7 979.2,550.7C980.8,550.7 982.3,564.8 983.9,564.8C986.0,564.8 988.1,534.7 990.1,534.7C992.5,534.7 994.8,564.8 997.1,564.8C999.0,564.8 1000.9,555.4 1002.8,555.4C1006.2,555.4 1009.7,579.0 1013.2,579.0C1015.7,579.0 1018.2,561.1 1020.7,561.1C1022.3,561.1 1023.8,571.4 1025.4,571.4C1028.4,571.4 1031.3,555.4 1034.3,555.4C1036.0,555.4 1037.8,562.7 1039.6,564.8C1042.4,568.3 1045.2,572.4 1048.0,572.4C1049.0,572.4 1049.9,566.7 1050.9,566.7C1052.4,566.7 1054.0,571.4 1055.6,571.4C1057.3,571.4 1059.0,563.0 1060.7,563.0C1063.1,563.0 1065.5,576.2 1067.8,576.2C1069.7,576.2 1071.6,574.6 1073.5,573.3C1075.7,571.8 1077.9,565.4 1080.1,565.4C1082.3,565.4 1084.5,576.2 1086.7,576.2C1088.6,576.2 1090.5,567.7 1092.4,567.7C1093.6,567.7 1094.9,569.4 1096.1,571.4C1097.1,573.0 1098.0,581.8 1099.0,581.8C1100.2,581.8 1101.5,581.8 1102.7,581.8C1104.2,581.8 1105.6,567.7 1107.1,567.7C1108.1,567.7 1109.2,581.8 1110.3,581.8C1110.9,581.8 1111.5,581.8 1112.2,581.8C1113.7,581.8 1115.3,559.7 1116.9,559.7C1119.1,559.7 1121.3,579.9 1123.5,579.9C1124.7,579.9 1126.0,564.1 1127.2,562.0C1129.4,558.4 1131.6,556.0 1133.8,556.0C1136.0,556.0 1138.2,581.8 1140.4,581.8C1142.6,581.8 1144.8,576.8 1147.0,573.3C1149.6,569.3 1152.1,557.3 1154.6,557.3C1156.8,557.3 1159.0,574.3 1161.2,574.3C1162.4,574.3 1163.7,574.3 1165.0,574.3C1167.2,574.3 1169.4,561.1 1171.6,561.1C1174.1,561.1 1176.6,580.9 1179.1,580.9C1180.4,580.9 1181.6,564.3 1182.9,564.3C1184.4,564.3 1186.0,581.8 1187.6,581.8C1189.2,581.8 1190.7,556.7 1192.3,556.7C1194.5,556.7 1196.7,570.1 1198.9,574.3C1200.6,577.5 1202.3,581.8 1204.0,581.8C1206.1,581.8 1208.1,557.3 1210.2,557.3C1212.4,557.3 1214.6,580.9 1216.8,580.9C1219.7,580.9 1222.5,553.5 1225.3,553.5C1227.2,553.5 1229.1,569.6 1231.0,569.6C1232.9,569.6 1234.7,552.6 1236.6,552.6C1238.3,552.6 1240.0,563.5 1241.7,563.5C1243.2,563.5 1244.6,551.6 1246.1,551.6C1247.8,551.6 1249.4,566.7 1251.1,566.7C1252.8,566.7 1254.4,556.4 1256.0,556.4C1257.4,556.4 1258.8,571.4 1260.2,571.4C1260.3,571.4 1260.4,571.1 1260.5,570.8C1262.5,565.4 1264.6,534.5 1266.6,532.6C1268.3,531.1 1270.0,530.1 1271.6,530.1C1273.3,530.1 1275.0,542.6 1276.6,542.6C1278.0,542.6 1279.4,542.6 1280.8,542.6C1281.6,542.6 1282.4,534.3 1283.3,527.6C1284.6,516.6 1286.0,483.0 1287.4,472.8C1289.6,456.5 1291.8,440.4 1294.1,440.4C1295.9,440.4 1297.7,452.9 1299.5,452.9C1301.0,452.9 1302.5,412.2 1304.0,412.2C1306.0,412.2 1307.9,415.5 1309.8,415.5C1312.7,415.5 1315.6,356.2 1318.5,356.2C1320.6,356.2 1322.7,399.4 1324.8,399.4C1326.4,399.4 1328.1,359.0 1329.8,359.0C1331.9,359.0 1334.0,418.8 1336.1,418.8C1337.9,418.8 1339.6,399.7 1341.4,399.7C1342.9,399.7 1344.5,432.1 1346.0,432.1C1347.5,432.1 1349.0,423.8 1350.5,423.8C1352.5,423.8 1354.4,461.3 1356.3,466.2C1357.7,469.7 1359.1,469.5 1360.5,472.8C1362.2,476.8 1363.8,499.4 1365.5,499.4C1367.3,499.4 1369.1,476.1 1371.0,476.1C1372.2,476.1 1373.4,489.4 1374.6,491.1C1376.0,493.0 1377.4,492.4 1378.8,494.4C1380.3,496.6 1381.8,531.0 1383.3,531.0C1384.9,531.0 1386.6,516.8 1388.2,516.8C1389.8,516.8 1391.3,534.3 1392.9,534.3C1394.3,534.3 1395.7,527.6 1397.0,527.6C1398.4,527.6 1399.8,539.3 1401.2,540.9C1402.3,542.2 1403.4,542.1 1404.5,543.4C1406.5,545.7 1408.4,567.5 1410.3,567.5C1412.0,567.5 1413.7,557.5 1415.3,557.5C1417.3,557.5 1419.2,573.3 1421.1,573.3C1422.8,573.3 1424.5,557.5 1426.1,557.5C1428.6,557.5 1431.1,580.8 1433.6,580.8C1436.5,580.8 1439.5,543.4 1442.4,543.4C1446.1,543.4 1449.8,562.5 1453.5,562.5C1455.5,562.5 1457.4,541.8 1459.3,541.8C1462.4,541.8 1465.4,567.5 1468.5,567.5C1469.6,567.5 1470.7,567.5 1471.8,567.5C1473.7,567.5 1475.7,538.4 1477.6,538.4C1479.5,538.4 1481.5,560.9 1483.4,560.9C1485.6,560.9 1487.9,550.1 1490.1,550.1C1492.0,550.1 1493.9,551.7 1495.9,551.7C1497.8,551.7 1499.8,537.6 1501.7,537.6C1503.4,537.6 1505.0,548.2 1506.7,550.1C1508.6,552.3 1510.6,554.2 1512.5,554.2C1515.3,554.2 1518.0,535.9 1520.8,535.9C1523.6,535.9 1526.3,577.5 1529.1,577.5C1531.0,577.5 1533.0,539.3 1534.9,539.3C1536.9,539.3 1538.8,575.0 1540.7,575.0C1542.4,575.0 1544.1,544.3 1545.7,544.3C1548.5,544.3 1551.3,577.5 1554.0,577.5C1556.0,577.5 1558.0,573.7 1560.0,570.8C1560.2,570.5 1560.5,569.6 1560.7,569.6C1562.6,569.6 1564.5,576.2 1566.4,576.2C1568.2,576.2 1569.9,568.6 1571.7,568.6C1573.4,568.6 1575.1,576.2 1576.8,576.2C1578.7,576.2 1580.5,569.3 1582.4,568.6C1584.0,568.1 1585.6,568.2 1587.1,567.7C1589.0,567.0 1590.9,561.6 1592.8,561.6C1594.4,561.6 1595.9,572.4 1597.5,572.4C1599.4,572.4 1601.3,561.6 1603.2,561.6C1605.1,561.6 1606.9,569.6 1608.8,569.6C1610.6,569.6 1612.4,563.0 1614.1,563.0C1615.8,563.0 1617.5,572.4 1619.2,572.4C1621.4,572.4 1623.6,565.8 1625.8,562.0C1628.0,558.3 1630.2,549.8 1632.4,549.8C1634.4,549.8 1636.4,556.0 1638.4,556.0C1640.8,556.0 1643.2,545.0 1645.6,545.0C1646.9,545.0 1648.1,547.3 1649.4,547.3C1651.1,547.3 1652.9,533.7 1654.7,533.7C1656.4,533.7 1658.1,554.5 1659.8,554.5C1661.4,554.5 1663.1,544.1 1664.8,544.1C1666.9,544.1 1669.0,569.6 1671.1,569.6C1673.1,569.6 1675.2,554.8 1677.3,554.8C1679.8,554.8 1682.3,574.3 1684.8,574.3C1686.5,574.3 1688.2,565.8 1689.9,565.8C1691.2,565.8 1692.4,566.7 1693.7,566.7C1695.0,566.7 1696.2,556.4 1697.5,556.4C1699.2,556.4 1700.9,580.9 1702.6,580.9C1704.3,580.9 1706.1,566.7 1707.8,566.7C1709.4,566.7 1711.0,580.9 1712.6,580.9C1714.4,580.9 1716.3,564.3 1718.2,564.3C1720.1,564.3 1722.0,581.8 1723.9,581.8C1725.1,581.8 1726.4,581.8 1727.6,581.8C1729.3,581.8 1731.0,546.5 1732.7,546.5C1734.8,546.5 1736.9,580.9 1739.0,580.9C1740.8,580.9 1742.7,575.2 1744.6,575.2C1746.2,575.2 1747.8,579.9 1749.3,579.9C1751.8,579.9 1754.4,568.6 1756.9,568.6C1759.1,568.6 1761.3,575.2 1763.5,575.2C1765.5,575.2 1767.5,559.7 1769.5,559.7C1771.6,559.7 1773.7,581.8 1775.7,581.8C1777.9,581.8 1780.1,563.0 1782.3,563.0C1784.8,563.0 1787.4,580.9 1789.9,580.9C1793.8,580.9 1797.8,556.0 1801.8,556.0C1803.8,556.0 1805.8,576.2 1807.8,576.2C1809.9,576.2 1811.9,549.2 1814.0,549.2C1816.3,549.2 1818.7,579.0 1821.0,579.0C1823.0,579.0 1825.0,556.0 1827.0,556.0C1829.1,556.0 1831.2,571.4 1833.3,571.4C1834.8,571.4 1836.4,566.7 1838.0,566.7C1840.5,566.7 1843.0,580.9 1845.5,580.9C1847.7,580.9 1849.9,552.2 1852.1,552.2C1854.0,552.2 1855.9,581.8 1857.8,581.8C1859.7,581.8 1861.5,552.6 1863.4,552.6C1865.3,552.6 1867.2,579.9 1869.1,579.9C1871.0,579.9 1872.9,552.2 1874.7,552.2C1876.6,552.2 1878.5,581.8 1880.4,581.8C1882.3,581.8 1884.2,559.2 1886.1,559.2C1887.8,559.2 1889.4,573.3 1891.1,573.3C1892.9,573.3 1894.7,572.5 1896.4,571.4C1898.3,570.3 1900.2,560.1 1902.1,560.1C1903.7,560.1 1905.2,573.3 1906.8,573.3C1909.0,573.3 1911.2,549.8 1913.4,549.8C1914.9,549.8 1916.5,561.2 1918.0,561.2C1919.5,561.2 1920.9,550.5 1922.3,550.5C1924.1,550.5 1925.9,556.9 1927.7,556.9C1929.3,556.9 1930.9,546.2 1932.5,546.2C1934.8,546.2 1937.1,551.9 1939.4,556.9C1940.8,560.0 1942.2,571.3 1943.7,571.3C1945.1,571.3 1946.5,570.5 1947.9,569.7C1950.1,568.6 1952.2,563.9 1954.3,563.9C1956.8,563.9 1959.3,581.0 1961.8,581.0C1964.1,581.0 1966.5,570.8 1968.8,570.8C1971.8,570.8 1974.8,576.7 1977.8,576.7C1978.6,576.7 1979.3,574.9 1980.0,574.0"/>
<text x="147" y="1574" font-size="56" text-anchor="middle">10</text>
<text x="757.5" y="1574" font-size="56" text-anchor="middle">20</text>
<text x="1368.5" y="1574" font-size="56" text-anchor="middle">30</text>
<text x="1979" y="1574" font-size="56" text-anchor="middle">40</text>
<text x="1047" y="1659" font-size="70.5" text-anchor="middle">2θ (degree)</text>
<text transform="translate(66,760.5) rotate(-90)" font-size="70" text-anchor="middle">Intensity (a.u.)</text>
<line x1="196" y1="108.5" x2="351" y2="108.5" stroke="#000000" stroke-width="5"/>
<text x="363.5" y="137" font-size="56">M0</text>
<line x1="479" y1="108.5" x2="634" y2="108.5" stroke="#ff0000" stroke-width="5"/>
<text x="645.5" y="137" font-size="56">R1</text>
<line x1="748.5" y1="108.5" x2="903.5" y2="108.5" stroke="#0000ff" stroke-width="5"/>
<text x="916" y="137" font-size="56">R2</text>
<line x1="196" y1="203.5" x2="351" y2="203.5" stroke="#008000" stroke-width="5"/>
<text x="363" y="232" font-size="56">R3</text>
<line x1="466.5" y1="203.5" x2="621.5" y2="203.5" stroke="#800080" stroke-width="5"/>
<text x="633" y="232" font-size="56">R4</text>
<text x="213.0" y="475.0" font-size="56">Ht</text>
<text x="924.5" y="511.5" font-size="56">Ht</text>
<text x="1630.5" y="513.5" font-size="56">Ht</text>
<text x="1904.0" y="517.0" font-size="56">Ht</text>
<text x="213.0" y="709.5" font-size="56">Ht</text>
<text x="924.5" y="725.5" font-size="56">Ht</text>
<text x="1627.5" y="729.0" font-size="56">Ht</text>
<text x="1908.0" y="731.0" font-size="56">Ht</text>
<text x="213.0" y="909.5" font-size="56">Ht</text>
<text x="919.5" y="955.0" font-size="56">Ht</text>
<text x="1632.5" y="946.5" font-size="56">Ht</text>
<text x="1899.0" y="951.5" font-size="56">Ht</text>
<text x="215.5" y="1122.0" font-size="56">Ht</text>
<text x="922.0" y="1150.0" font-size="56">Ht</text>
<text x="1632.5" y="1149.0" font-size="56">Ht</text>
<text x="1899.0" y="1152.0" font-size="56">Ht</text>
<text x="220.0" y="1355.5" font-size="56">Ht</text>
<text x="924.5" y="1368.5" font-size="56">Ht</text>
<text x="1642.5" y="1381.5" font-size="56">Ht</text>
<text x="1911.0" y="1379.0" font-size="56">Ht</text>
<text x="1031.4" y="356.7" font-size="56" letter-spacing="-0.45">C-S-H (I)</text>
<text x="1018.6" y="640.5" font-size="56" letter-spacing="-0.45">C-S-H (I)</text>
<text x="1016.4" y="839.7" font-size="56" letter-spacing="-0.45">C-S-H (I)</text>
<text x="1032.2" y="1066.1" font-size="56" letter-spacing="-0.45">C-S-H (I)</text>
<text x="1411.1" y="359.2" font-size="56" letter-spacing="-0.45">C-A-S-H</text>
<text x="1412.4" y="636.1" font-size="56" letter-spacing="-0.45">C-A-S-H</text>
<text x="1417.5" y="850.5" font-size="56" letter-spacing="-0.45">C-A-S-H</text>
<text x="1415.0" y="1076.2" font-size="56" letter-spacing="-0.45">C-A-S-H</text>
<text x="1418.5" y="1281.3" font-size="56" letter-spacing="-0.45">C-A-S-H</text>
<line x1="1247.6" y1="342.4" x2="1272.0" y2="353.6" stroke="#000" stroke-width="3.2"/>
<polygon points="1307,369 1275.8,344.1 1268.3,363.2" fill="#000" stroke="#000" stroke-width="1.6" stroke-linejoin="round"/>
<line x1="1407" y1="347.3" x2="1384.6" y2="354.4" stroke="#000" stroke-width="3.2"/>
<polygon points="1347.2,366.5 1382.1,344.9 1387.1,364" fill="#000" stroke="#000" stroke-width="1.6" stroke-linejoin="round"/>
<line x1="1231.7" y1="617.6" x2="1269.2" y2="625.1" stroke="#000" stroke-width="3.2"/>
<polygon points="1307,631.7 1271,615.4 1267.3,634.8" fill="#000" stroke="#000" stroke-width="1.6" stroke-linejoin="round"/>
<line x1="1408.5" y1="617.7" x2="1373.2" y2="624.5" stroke="#000" stroke-width="3.2"/>
<polygon points="1335.8,631.6 1371,615.4 1375.3,633.7" fill="#000" stroke="#000" stroke-width="1.6" stroke-linejoin="round"/>
<line x1="1229.8" y1="823.8" x2="1268.3" y2="826.5" stroke="#000" stroke-width="3.2"/>
<polygon points="1307,828.5 1268.3,816.4 1268.3,836.5" fill="#000" stroke="#000" stroke-width="1.6" stroke-linejoin="round"/>
<line x1="1413.6" y1="837.2" x2="1378.2" y2="843.5" stroke="#000" stroke-width="3.2"/>
<polygon points="1340,849.5 1376.6,833.3 1379.8,853.7" fill="#000" stroke="#000" stroke-width="1.6" stroke-linejoin="round"/>
<line x1="1245.6" y1="1043.2" x2="1273.3" y2="1047.2" stroke="#000" stroke-width="3.2"/>
<polygon points="1311.6,1052.5 1274.1,1037.2 1272.6,1057.3" fill="#000" stroke="#000" stroke-width="1.6" stroke-linejoin="round"/>
<line x1="1413.4" y1="1052.5" x2="1383.2" y2="1055.3" stroke="#000" stroke-width="3.2"/>
<polygon points="1344.8,1059.4 1382.1,1045.4 1384.2,1065.3" fill="#000" stroke="#000" stroke-width="1.6" stroke-linejoin="round"/>
<line x1="1408.6" y1="1260.2" x2="1375.5" y2="1253.5" stroke="#000" stroke-width="3.2"/>
<polygon points="1338,1246.4 1377.5,1243.7 1373.4,1263.2" fill="#000" stroke="#000" stroke-width="1.6" stroke-linejoin="round"/>
</svg></body></html>
